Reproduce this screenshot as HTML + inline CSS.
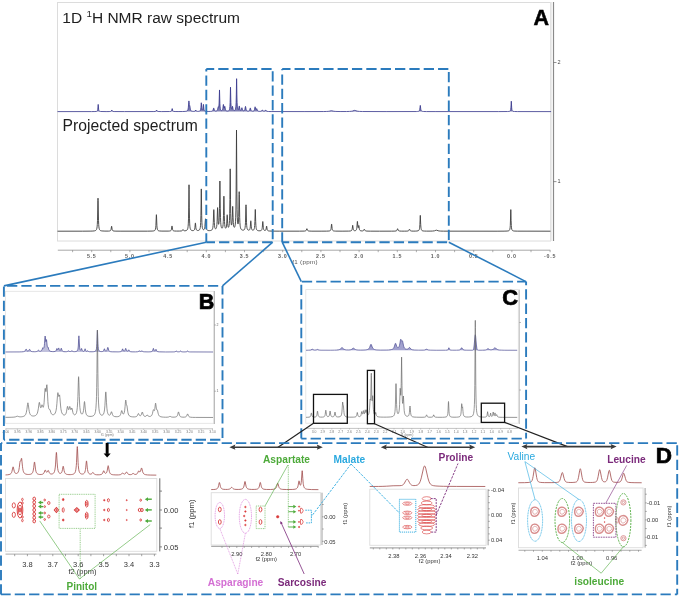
<!DOCTYPE html>
<html><head><meta charset="utf-8"><title>NMR figure</title>
<style>html,body{margin:0;padding:0;background:#fff;width:685px;height:597px;overflow:hidden}svg{display:block;will-change:transform}</style>
</head><body>
<svg width="685" height="597" viewBox="0 0 685 597">
<rect width="685" height="597" fill="#fff"/>
<rect x="57.5" y="2.5" width="493" height="238.5" fill="none" stroke="#dcdcdc" stroke-width="1"/>
<line x1="553.5" y1="2" x2="553.5" y2="241" stroke="#8a8a8a" stroke-width="1.2"/>
<line x1="551" y1="2" x2="551" y2="241" stroke="#e6e6e6" stroke-width="1.5"/>
<line x1="553.5" y1="62.5" x2="556.5" y2="62.5" stroke="#666" stroke-width="0.7"/>
<text x="557.5" y="64.3" font-size="5.5" font-family="Liberation Sans, sans-serif" fill="#444">2</text>
<line x1="553.5" y1="181.6" x2="556.5" y2="181.6" stroke="#666" stroke-width="0.7"/>
<text x="557.5" y="183.4" font-size="5.5" font-family="Liberation Sans, sans-serif" fill="#444">1</text>
<path d="M57.50 111.60 L91.50 111.58 L94.90 111.54 L96.30 111.42 L96.70 111.32 L97.10 111.10 L97.30 110.88 L97.50 110.48 L97.70 109.69 L97.90 108.00 L98.20 104.40 L98.50 108.00 L98.70 109.69 L98.90 110.48 L99.10 110.88 L99.50 111.23 L99.90 111.38 L100.70 111.49 L106.10 111.58 L109.10 111.56 L110.30 111.49 L110.70 111.42 L111.10 111.22 L111.30 111.01 L111.70 110.18 L111.80 110.09 L111.90 110.18 L112.30 111.01 L112.50 111.23 L113.10 111.46 L114.10 111.55 L124.50 111.59 L153.90 111.56 L155.10 111.49 L155.70 111.34 L156.10 111.01 L156.50 110.18 L156.60 110.09 L156.70 110.18 L157.10 111.01 L157.30 111.22 L157.70 111.42 L158.10 111.49 L161.30 111.58 L169.50 111.53 L170.90 111.38 L171.30 111.19 L171.50 110.98 L171.70 110.60 L172.10 108.81 L172.20 108.58 L172.30 108.81 L172.70 110.59 L172.90 110.98 L173.30 111.30 L173.70 111.42 L175.10 111.53 L178.10 111.56 L182.70 111.52 L185.10 111.41 L186.30 111.24 L187.10 110.90 L187.50 110.52 L187.90 109.72 L188.10 108.96 L188.30 107.71 L188.90 100.91 L189.10 102.24 L189.30 104.42 L189.50 105.41 L189.70 105.40 L189.80 105.57 L190.30 109.07 L190.50 109.85 L190.90 110.61 L191.30 110.95 L191.70 111.13 L192.30 111.27 L193.30 111.37 L194.10 111.36 L194.70 111.27 L195.10 111.04 L195.70 110.07 L196.30 111.04 L196.50 111.19 L196.90 111.32 L197.70 111.38 L198.70 111.33 L199.50 111.17 L199.90 110.96 L200.30 110.52 L200.50 110.06 L200.70 109.24 L200.90 107.68 L201.30 102.76 L201.70 107.53 L201.90 109.00 L202.10 109.69 L202.30 109.97 L202.50 109.95 L202.70 109.64 L202.90 108.85 L203.30 104.82 L203.40 104.31 L203.50 104.86 L203.90 109.09 L204.10 110.01 L204.30 110.51 L204.50 110.80 L204.90 111.10 L205.30 111.25 L205.90 111.35 L208.10 111.46 L210.70 111.40 L211.50 111.32 L212.10 111.17 L212.50 110.96 L212.90 110.48 L213.10 110.02 L213.50 108.43 L213.70 107.94 L213.90 108.41 L214.30 109.97 L214.50 110.41 L214.70 110.68 L214.90 110.85 L215.30 111.01 L216.10 111.02 L216.50 110.92 L216.90 110.70 L217.30 110.23 L217.50 109.80 L217.70 109.12 L218.20 106.88 L218.30 106.84 L218.50 107.13 L218.70 107.09 L218.90 106.04 L219.10 103.04 L219.50 89.95 L219.90 103.54 L220.10 106.94 L220.30 108.57 L220.50 109.43 L220.70 109.92 L220.90 110.22 L221.30 110.51 L221.70 110.55 L221.90 110.49 L222.30 110.15 L222.50 109.79 L222.70 109.19 L222.90 108.16 L223.30 104.77 L223.40 104.42 L223.50 104.67 L223.90 107.56 L224.10 108.16 L224.30 108.06 L224.70 106.40 L224.80 106.27 L224.90 106.56 L225.30 109.02 L225.50 109.77 L225.70 110.23 L226.10 110.70 L226.50 110.90 L227.10 111.02 L227.90 110.98 L228.30 110.88 L228.70 110.67 L229.10 110.27 L229.30 109.90 L229.50 109.32 L229.70 108.33 L229.90 106.48 L230.10 102.62 L230.50 87.19 L230.90 102.43 L231.10 106.18 L231.30 107.88 L231.50 108.64 L231.70 108.88 L231.90 108.69 L232.50 106.30 L233.10 109.33 L233.30 109.88 L233.50 110.20 L233.70 110.39 L233.90 110.49 L234.30 110.53 L234.70 110.38 L234.90 110.23 L235.30 109.61 L235.50 109.01 L235.70 108.02 L235.90 106.22 L236.10 102.65 L236.30 94.98 L236.60 78.67 L236.70 81.92 L236.90 94.94 L237.10 102.58 L237.30 106.12 L237.50 107.86 L237.70 108.79 L237.90 109.30 L238.10 109.54 L238.30 109.58 L238.50 109.41 L238.70 108.95 L239.10 106.74 L239.30 105.96 L239.50 106.82 L239.90 109.21 L240.10 109.79 L240.30 110.11 L240.50 110.27 L240.70 110.31 L240.90 110.25 L241.10 110.04 L241.30 109.65 L241.70 108.15 L241.90 107.69 L242.10 108.19 L242.50 109.78 L242.70 110.23 L243.10 110.67 L243.50 110.81 L243.90 110.78 L244.30 110.55 L244.50 110.32 L244.70 109.93 L244.90 109.30 L245.30 107.07 L245.50 106.38 L245.70 107.08 L246.10 109.35 L246.30 110.00 L246.50 110.40 L246.70 110.66 L247.10 110.94 L247.90 111.13 L248.70 111.06 L249.10 110.88 L249.30 110.70 L249.50 110.43 L249.70 109.98 L250.10 108.40 L250.30 107.92 L250.50 108.41 L250.90 109.99 L251.10 110.43 L251.50 110.89 L251.90 111.07 L252.50 111.16 L253.10 111.11 L253.70 110.88 L254.10 110.49 L254.30 110.12 L254.50 109.52 L254.90 107.44 L255.10 106.78 L255.30 107.34 L255.70 109.17 L255.90 109.55 L256.10 109.59 L256.30 109.33 L256.50 108.85 L256.70 108.62 L256.90 109.04 L257.30 110.27 L257.70 110.86 L258.30 111.18 L259.50 111.35 L260.50 111.32 L260.90 111.24 L261.30 111.09 L261.70 110.74 L262.10 110.13 L262.30 109.98 L262.50 110.13 L263.10 110.92 L263.30 111.05 L263.70 111.18 L264.30 111.17 L264.70 111.01 L265.10 110.61 L265.50 110.05 L265.60 110.01 L265.70 110.06 L266.30 110.90 L266.50 111.07 L267.10 111.34 L268.30 111.49 L271.10 111.55 L304.10 111.59 L323.70 111.54 L326.30 111.48 L328.10 111.38 L329.10 111.25 L330.90 110.84 L331.40 110.79 L331.90 110.84 L333.90 111.27 L335.90 111.45 L340.10 111.54 L346.50 111.52 L349.50 111.43 L351.30 111.28 L352.50 111.05 L354.10 110.49 L354.70 110.39 L355.30 110.49 L356.90 111.05 L357.90 111.26 L359.70 111.43 L362.50 111.52 L386.90 111.59 L416.30 111.54 L417.50 111.47 L418.30 111.36 L418.90 111.13 L419.30 110.74 L419.50 110.36 L419.70 109.69 L420.30 105.40 L420.70 108.50 L420.90 109.69 L421.10 110.36 L421.30 110.74 L421.50 110.98 L421.90 111.23 L422.50 111.40 L423.30 111.49 L426.50 111.57 L435.90 111.59 L498.30 111.59 L507.50 111.53 L508.90 111.44 L509.70 111.25 L510.10 110.99 L510.30 110.74 L510.50 110.32 L510.70 109.52 L510.90 107.86 L511.30 101.20 L511.70 107.86 L511.90 109.52 L512.10 110.32 L512.30 110.74 L512.70 111.14 L513.10 111.32 L514.50 111.51 L517.70 111.58 L551.10 111.60 L551.00 111.60 L57.50 111.60 Z" fill="#2c2c80" fill-opacity="0.6" stroke="none"/>
<path d="M57.50 111.60 L91.50 111.58 L94.90 111.54 L96.30 111.42 L96.70 111.32 L97.10 111.10 L97.30 110.88 L97.50 110.48 L97.70 109.69 L97.90 108.00 L98.20 104.40 L98.50 108.00 L98.70 109.69 L98.90 110.48 L99.10 110.88 L99.50 111.23 L99.90 111.38 L100.70 111.49 L106.10 111.58 L109.10 111.56 L110.30 111.49 L110.70 111.42 L111.10 111.22 L111.30 111.01 L111.70 110.18 L111.80 110.09 L111.90 110.18 L112.30 111.01 L112.50 111.23 L113.10 111.46 L114.10 111.55 L124.50 111.59 L153.90 111.56 L155.10 111.49 L155.70 111.34 L156.10 111.01 L156.50 110.18 L156.60 110.09 L156.70 110.18 L157.10 111.01 L157.30 111.22 L157.70 111.42 L158.10 111.49 L161.30 111.58 L169.50 111.53 L170.90 111.38 L171.30 111.19 L171.50 110.98 L171.70 110.60 L172.10 108.81 L172.20 108.58 L172.30 108.81 L172.70 110.59 L172.90 110.98 L173.30 111.30 L173.70 111.42 L175.10 111.53 L178.10 111.56 L182.70 111.52 L185.10 111.41 L186.30 111.24 L187.10 110.90 L187.50 110.52 L187.90 109.72 L188.10 108.96 L188.30 107.71 L188.90 100.91 L189.10 102.24 L189.30 104.42 L189.50 105.41 L189.70 105.40 L189.80 105.57 L190.30 109.07 L190.50 109.85 L190.90 110.61 L191.30 110.95 L191.70 111.13 L192.30 111.27 L193.30 111.37 L194.10 111.36 L194.70 111.27 L195.10 111.04 L195.70 110.07 L196.30 111.04 L196.50 111.19 L196.90 111.32 L197.70 111.38 L198.70 111.33 L199.50 111.17 L199.90 110.96 L200.30 110.52 L200.50 110.06 L200.70 109.24 L200.90 107.68 L201.30 102.76 L201.70 107.53 L201.90 109.00 L202.10 109.69 L202.30 109.97 L202.50 109.95 L202.70 109.64 L202.90 108.85 L203.30 104.82 L203.40 104.31 L203.50 104.86 L203.90 109.09 L204.10 110.01 L204.30 110.51 L204.50 110.80 L204.90 111.10 L205.30 111.25 L205.90 111.35 L208.10 111.46 L210.70 111.40 L211.50 111.32 L212.10 111.17 L212.50 110.96 L212.90 110.48 L213.10 110.02 L213.50 108.43 L213.70 107.94 L213.90 108.41 L214.30 109.97 L214.50 110.41 L214.70 110.68 L214.90 110.85 L215.30 111.01 L216.10 111.02 L216.50 110.92 L216.90 110.70 L217.30 110.23 L217.50 109.80 L217.70 109.12 L218.20 106.88 L218.30 106.84 L218.50 107.13 L218.70 107.09 L218.90 106.04 L219.10 103.04 L219.50 89.95 L219.90 103.54 L220.10 106.94 L220.30 108.57 L220.50 109.43 L220.70 109.92 L220.90 110.22 L221.30 110.51 L221.70 110.55 L221.90 110.49 L222.30 110.15 L222.50 109.79 L222.70 109.19 L222.90 108.16 L223.30 104.77 L223.40 104.42 L223.50 104.67 L223.90 107.56 L224.10 108.16 L224.30 108.06 L224.70 106.40 L224.80 106.27 L224.90 106.56 L225.30 109.02 L225.50 109.77 L225.70 110.23 L226.10 110.70 L226.50 110.90 L227.10 111.02 L227.90 110.98 L228.30 110.88 L228.70 110.67 L229.10 110.27 L229.30 109.90 L229.50 109.32 L229.70 108.33 L229.90 106.48 L230.10 102.62 L230.50 87.19 L230.90 102.43 L231.10 106.18 L231.30 107.88 L231.50 108.64 L231.70 108.88 L231.90 108.69 L232.50 106.30 L233.10 109.33 L233.30 109.88 L233.50 110.20 L233.70 110.39 L233.90 110.49 L234.30 110.53 L234.70 110.38 L234.90 110.23 L235.30 109.61 L235.50 109.01 L235.70 108.02 L235.90 106.22 L236.10 102.65 L236.30 94.98 L236.60 78.67 L236.70 81.92 L236.90 94.94 L237.10 102.58 L237.30 106.12 L237.50 107.86 L237.70 108.79 L237.90 109.30 L238.10 109.54 L238.30 109.58 L238.50 109.41 L238.70 108.95 L239.10 106.74 L239.30 105.96 L239.50 106.82 L239.90 109.21 L240.10 109.79 L240.30 110.11 L240.50 110.27 L240.70 110.31 L240.90 110.25 L241.10 110.04 L241.30 109.65 L241.70 108.15 L241.90 107.69 L242.10 108.19 L242.50 109.78 L242.70 110.23 L243.10 110.67 L243.50 110.81 L243.90 110.78 L244.30 110.55 L244.50 110.32 L244.70 109.93 L244.90 109.30 L245.30 107.07 L245.50 106.38 L245.70 107.08 L246.10 109.35 L246.30 110.00 L246.50 110.40 L246.70 110.66 L247.10 110.94 L247.90 111.13 L248.70 111.06 L249.10 110.88 L249.30 110.70 L249.50 110.43 L249.70 109.98 L250.10 108.40 L250.30 107.92 L250.50 108.41 L250.90 109.99 L251.10 110.43 L251.50 110.89 L251.90 111.07 L252.50 111.16 L253.10 111.11 L253.70 110.88 L254.10 110.49 L254.30 110.12 L254.50 109.52 L254.90 107.44 L255.10 106.78 L255.30 107.34 L255.70 109.17 L255.90 109.55 L256.10 109.59 L256.30 109.33 L256.50 108.85 L256.70 108.62 L256.90 109.04 L257.30 110.27 L257.70 110.86 L258.30 111.18 L259.50 111.35 L260.50 111.32 L260.90 111.24 L261.30 111.09 L261.70 110.74 L262.10 110.13 L262.30 109.98 L262.50 110.13 L263.10 110.92 L263.30 111.05 L263.70 111.18 L264.30 111.17 L264.70 111.01 L265.10 110.61 L265.50 110.05 L265.60 110.01 L265.70 110.06 L266.30 110.90 L266.50 111.07 L267.10 111.34 L268.30 111.49 L271.10 111.55 L304.10 111.59 L323.70 111.54 L326.30 111.48 L328.10 111.38 L329.10 111.25 L330.90 110.84 L331.40 110.79 L331.90 110.84 L333.90 111.27 L335.90 111.45 L340.10 111.54 L346.50 111.52 L349.50 111.43 L351.30 111.28 L352.50 111.05 L354.10 110.49 L354.70 110.39 L355.30 110.49 L356.90 111.05 L357.90 111.26 L359.70 111.43 L362.50 111.52 L386.90 111.59 L416.30 111.54 L417.50 111.47 L418.30 111.36 L418.90 111.13 L419.30 110.74 L419.50 110.36 L419.70 109.69 L420.30 105.40 L420.70 108.50 L420.90 109.69 L421.10 110.36 L421.30 110.74 L421.50 110.98 L421.90 111.23 L422.50 111.40 L423.30 111.49 L426.50 111.57 L435.90 111.59 L498.30 111.59 L507.50 111.53 L508.90 111.44 L509.70 111.25 L510.10 110.99 L510.30 110.74 L510.50 110.32 L510.70 109.52 L510.90 107.86 L511.30 101.20 L511.70 107.86 L511.90 109.52 L512.10 110.32 L512.30 110.74 L512.70 111.14 L513.10 111.32 L514.50 111.51 L517.70 111.58 L551.10 111.60" fill="none" stroke="#34348a" stroke-width="0.8"/>
<path d="M57.50 231.19 L82.70 231.18 L90.90 231.11 L92.90 231.04 L94.30 230.90 L95.30 230.65 L95.90 230.30 L96.30 229.85 L96.50 229.49 L96.90 228.16 L97.10 226.86 L97.30 224.59 L97.50 220.34 L97.90 200.68 L98.00 198.19 L98.10 200.68 L98.50 220.34 L98.70 224.59 L98.90 226.85 L99.10 228.16 L99.30 228.96 L99.50 229.49 L99.90 230.11 L100.30 230.44 L100.70 230.64 L101.30 230.82 L102.10 230.95 L104.90 231.09 L108.50 231.08 L109.50 230.99 L110.10 230.83 L110.50 230.58 L110.70 230.34 L110.90 229.94 L111.10 229.22 L111.50 226.47 L111.60 226.17 L111.70 226.47 L112.10 229.22 L112.30 229.94 L112.50 230.35 L112.70 230.59 L113.10 230.84 L114.10 231.05 L115.90 231.14 L120.10 231.17 L147.50 231.16 L152.10 231.07 L153.30 230.97 L154.10 230.81 L154.70 230.51 L155.10 230.06 L155.30 229.66 L155.50 229.01 L155.70 227.88 L155.90 225.75 L156.30 215.92 L156.40 214.68 L156.50 215.92 L156.90 225.75 L157.10 227.88 L157.30 229.01 L157.50 229.66 L157.90 230.32 L158.30 230.63 L158.90 230.86 L159.50 230.97 L161.90 231.10 L168.10 231.10 L169.50 231.02 L170.30 230.88 L170.70 230.70 L170.90 230.54 L171.10 230.29 L171.30 229.87 L171.50 229.12 L171.90 226.25 L172.00 225.95 L172.10 226.25 L172.50 229.12 L172.70 229.87 L172.90 230.29 L173.10 230.54 L173.30 230.69 L173.70 230.87 L174.70 231.03 L176.50 231.09 L179.70 231.06 L181.30 230.95 L181.90 230.80 L182.30 230.54 L182.90 229.59 L183.00 229.52 L183.10 229.58 L183.70 230.48 L184.10 230.71 L184.50 230.78 L185.10 230.78 L186.10 230.60 L186.70 230.32 L187.10 229.97 L187.50 229.31 L187.70 228.75 L187.90 227.89 L188.10 226.46 L188.30 223.91 L188.50 218.83 L188.70 207.94 L189.00 184.78 L189.10 189.41 L189.30 207.93 L189.50 218.82 L189.70 223.89 L189.90 226.44 L190.10 227.86 L190.30 228.72 L190.50 229.27 L190.70 229.65 L191.10 230.11 L191.50 230.36 L192.10 230.55 L192.90 230.61 L193.50 230.52 L193.90 230.35 L194.30 229.97 L194.50 229.59 L194.70 228.94 L194.90 227.79 L195.30 223.38 L195.40 222.91 L195.50 223.38 L195.90 227.77 L196.10 228.92 L196.30 229.56 L196.50 229.94 L196.90 230.31 L197.30 230.46 L197.90 230.51 L198.70 230.36 L199.10 230.17 L199.50 229.81 L199.90 229.10 L200.10 228.47 L200.30 227.47 L200.50 225.76 L200.70 222.53 L200.90 215.81 L201.30 188.91 L201.70 215.76 L201.90 222.46 L202.10 225.66 L202.30 227.35 L202.50 228.31 L202.70 228.90 L202.90 229.27 L203.10 229.50 L203.50 229.70 L203.90 229.61 L204.10 229.44 L204.30 229.14 L204.50 228.65 L204.70 227.82 L204.90 226.42 L205.30 220.77 L205.50 218.80 L205.70 220.80 L206.10 226.52 L206.30 227.97 L206.50 228.83 L206.70 229.38 L206.90 229.74 L207.30 230.16 L207.70 230.38 L208.10 230.50 L208.90 230.61 L209.70 230.61 L210.50 230.52 L211.10 230.37 L211.50 230.20 L211.90 229.91 L212.30 229.38 L212.70 228.30 L212.90 227.27 L213.10 225.54 L213.30 222.49 L213.70 210.86 L213.80 209.61 L213.90 210.83 L214.30 222.30 L214.50 225.27 L214.70 226.91 L214.90 227.84 L215.10 228.38 L215.30 228.68 L215.50 228.82 L215.70 228.83 L215.90 228.73 L216.10 228.49 L216.30 228.09 L216.50 227.44 L216.70 226.37 L216.90 224.54 L217.10 221.31 L217.50 208.97 L217.60 207.60 L217.70 208.80 L218.10 220.36 L218.30 223.08 L218.50 224.22 L218.70 224.32 L218.90 223.47 L219.10 221.38 L219.30 217.11 L219.50 208.51 L219.90 181.00 L220.30 208.86 L220.50 217.69 L220.70 222.26 L220.90 224.77 L221.10 226.24 L221.30 227.14 L221.50 227.70 L221.70 228.04 L221.90 228.20 L222.10 228.23 L222.30 228.10 L222.50 227.80 L222.70 227.25 L222.90 226.30 L223.10 224.61 L223.30 221.49 L223.50 215.42 L223.90 196.19 L224.30 215.44 L224.50 221.52 L224.70 224.65 L224.90 226.34 L225.10 227.30 L225.30 227.85 L225.50 228.14 L225.70 228.23 L225.90 228.14 L226.10 227.83 L226.30 227.21 L226.50 226.05 L226.70 223.93 L227.10 215.66 L227.20 214.76 L227.30 215.62 L227.70 223.71 L227.90 225.73 L228.10 226.76 L228.30 227.22 L228.50 227.32 L228.70 227.10 L228.90 226.56 L229.10 225.55 L229.30 223.76 L229.50 220.44 L229.70 213.77 L229.90 199.41 L230.20 168.85 L230.30 174.91 L230.50 199.22 L230.70 213.43 L230.90 219.92 L231.10 223.02 L231.30 224.50 L231.50 225.07 L231.70 224.91 L231.90 223.97 L232.10 221.82 L232.30 217.62 L232.70 206.37 L233.10 217.94 L233.30 222.34 L233.50 224.76 L233.70 226.10 L233.90 226.83 L234.10 227.20 L234.30 227.32 L234.50 227.23 L234.70 226.94 L234.90 226.40 L235.10 225.52 L235.30 224.11 L235.50 221.79 L235.70 217.75 L235.90 210.10 L236.10 194.09 L236.50 130.03 L236.90 193.86 L237.10 209.72 L237.30 217.19 L237.50 220.98 L237.70 222.96 L237.90 223.86 L238.10 223.94 L238.30 223.15 L238.50 221.05 L238.70 216.54 L239.10 194.43 L239.20 191.66 L239.30 194.61 L239.70 217.52 L239.90 222.52 L240.10 225.21 L240.30 226.78 L240.50 227.76 L240.90 228.87 L241.10 229.21 L241.50 229.64 L241.90 229.90 L242.30 230.05 L242.90 230.15 L243.50 230.10 L243.90 229.96 L244.30 229.65 L244.70 228.99 L244.90 228.37 L245.10 227.36 L245.30 225.59 L245.50 222.25 L245.90 206.77 L246.00 204.81 L246.10 206.78 L246.50 222.27 L246.70 225.62 L246.90 227.40 L247.10 228.42 L247.30 229.05 L247.70 229.72 L248.10 230.03 L248.50 230.16 L249.10 230.11 L249.50 229.83 L249.70 229.56 L249.90 229.09 L250.10 228.30 L250.30 226.87 L250.70 221.38 L250.80 220.79 L250.90 221.38 L251.30 226.88 L251.50 228.32 L251.70 229.12 L251.90 229.58 L252.10 229.87 L252.50 230.14 L252.90 230.21 L253.30 230.13 L253.70 229.86 L254.10 229.21 L254.30 228.56 L254.50 227.47 L254.70 225.48 L254.90 221.63 L255.30 209.47 L255.70 221.66 L255.90 225.53 L256.10 227.54 L256.30 228.65 L256.50 229.32 L256.90 230.03 L257.30 230.37 L257.70 230.56 L258.70 230.77 L259.90 230.79 L260.70 230.67 L261.30 230.39 L261.70 229.92 L261.90 229.46 L262.10 228.69 L262.30 227.32 L262.70 222.09 L262.80 221.53 L262.90 222.09 L263.30 227.31 L263.50 228.68 L263.70 229.44 L263.90 229.89 L264.30 230.33 L264.70 230.50 L265.10 230.50 L265.30 230.45 L265.70 230.12 L265.90 229.74 L266.10 229.04 L266.50 226.31 L266.60 226.02 L266.70 226.32 L267.10 229.10 L267.30 229.83 L267.50 230.24 L267.70 230.49 L268.10 230.75 L268.50 230.88 L269.30 231.00 L272.30 231.11 L279.70 231.16 L299.50 231.17 L304.30 231.09 L305.30 230.96 L305.90 230.68 L306.30 230.16 L306.70 229.03 L306.90 228.68 L307.10 229.03 L307.50 230.16 L307.70 230.48 L307.90 230.68 L308.30 230.90 L309.10 231.06 L311.90 231.16 L321.10 231.17 L326.70 231.14 L328.90 231.03 L329.70 230.88 L330.10 230.71 L330.50 230.35 L330.70 230.00 L330.90 229.41 L331.10 228.38 L331.50 224.41 L331.60 223.99 L331.70 224.41 L332.10 228.38 L332.30 229.41 L332.50 230.00 L332.70 230.34 L333.10 230.71 L333.50 230.88 L334.30 231.03 L335.70 231.12 L342.10 231.16 L348.70 231.10 L350.10 231.02 L350.90 230.87 L351.50 230.55 L351.90 229.96 L352.10 229.33 L352.30 228.21 L352.70 225.30 L353.10 228.18 L353.30 229.29 L353.50 229.90 L353.70 230.25 L354.10 230.58 L354.50 230.70 L355.10 230.70 L355.70 230.51 L356.10 230.19 L356.30 229.89 L356.50 229.42 L356.70 228.64 L356.90 227.25 L357.30 221.96 L357.40 221.36 L357.50 221.86 L357.90 226.65 L358.10 227.60 L358.30 227.65 L358.50 226.85 L358.70 225.63 L358.80 225.44 L358.90 225.82 L359.30 228.80 L359.50 229.59 L359.70 230.05 L360.10 230.51 L360.50 230.73 L361.10 230.88 L362.50 230.92 L362.90 230.86 L363.30 230.70 L363.70 230.29 L364.10 229.40 L364.30 229.13 L364.50 229.41 L364.90 230.32 L365.30 230.74 L365.90 230.97 L366.90 231.09 L370.30 231.16 L379.50 231.18 L391.30 231.17 L394.90 231.10 L396.10 230.94 L396.50 230.76 L396.70 230.60 L397.10 229.94 L397.50 228.78 L397.60 228.69 L397.70 228.78 L398.10 229.94 L398.50 230.60 L398.90 230.86 L399.70 231.05 L401.30 231.14 L404.70 231.15 L406.90 231.10 L407.90 231.00 L408.30 230.88 L408.70 230.61 L408.90 230.35 L409.30 229.45 L409.50 229.17 L409.70 229.45 L410.10 230.35 L410.30 230.61 L410.50 230.77 L410.90 230.94 L411.70 231.07 L413.10 231.11 L415.30 231.10 L416.90 231.01 L418.10 230.79 L418.70 230.46 L419.10 229.94 L419.30 229.46 L419.50 228.64 L419.70 227.17 L419.90 224.33 L420.30 215.38 L420.70 224.33 L420.90 227.17 L421.10 228.64 L421.30 229.46 L421.70 230.25 L421.90 230.46 L422.30 230.71 L423.10 230.94 L424.30 231.06 L426.50 231.12 L430.10 231.12 L432.50 231.05 L434.30 230.85 L434.90 230.69 L435.90 230.29 L436.40 230.19 L436.90 230.29 L438.10 230.75 L439.10 230.96 L440.70 231.08 L443.50 231.15 L497.10 231.19 L504.10 231.15 L507.10 231.06 L508.30 230.89 L508.70 230.77 L509.10 230.55 L509.50 230.11 L509.70 229.70 L509.90 229.04 L510.10 227.85 L510.30 225.48 L510.80 209.60 L511.10 220.40 L511.30 225.48 L511.50 227.85 L511.70 229.04 L511.90 229.70 L512.30 230.37 L512.70 230.67 L513.30 230.89 L514.10 231.02 L517.30 231.15 L550.50 231.20" fill="none" stroke="#3c3c3c" stroke-width="0.9"/>
<text x="62.3" y="22.6" font-size="15.5" font-family="Liberation Sans, sans-serif" fill="#1e1e1e">1D <tspan font-size="9.8" dy="-5.4">1</tspan><tspan dy="5.4">H NMR raw spectrum</tspan></text>
<text x="62.6" y="131.4" font-size="15.7" font-family="Liberation Sans, sans-serif" fill="#1e1e1e">Projected spectrum</text>
<text x="533.6" y="24.6" font-size="21.5" font-weight="bold" font-family="Liberation Sans, sans-serif" fill="#000" stroke="#000" stroke-width="0.5">A</text>
<line x1="57.8" y1="250.2" x2="550.3" y2="250.2" stroke="#a8a8a8" stroke-width="1"/>
<line x1="72.6" y1="250.2" x2="72.6" y2="252.2" stroke="#777" stroke-width="0.6"/>
<line x1="91.7" y1="250.2" x2="91.7" y2="252.2" stroke="#777" stroke-width="0.6"/>
<line x1="110.8" y1="250.2" x2="110.8" y2="252.2" stroke="#777" stroke-width="0.6"/>
<line x1="129.9" y1="250.2" x2="129.9" y2="252.2" stroke="#777" stroke-width="0.6"/>
<line x1="149.0" y1="250.2" x2="149.0" y2="252.2" stroke="#777" stroke-width="0.6"/>
<line x1="168.1" y1="250.2" x2="168.1" y2="252.2" stroke="#777" stroke-width="0.6"/>
<line x1="187.2" y1="250.2" x2="187.2" y2="252.2" stroke="#777" stroke-width="0.6"/>
<line x1="206.3" y1="250.2" x2="206.3" y2="252.2" stroke="#777" stroke-width="0.6"/>
<line x1="225.4" y1="250.2" x2="225.4" y2="252.2" stroke="#777" stroke-width="0.6"/>
<line x1="244.5" y1="250.2" x2="244.5" y2="252.2" stroke="#777" stroke-width="0.6"/>
<line x1="263.6" y1="250.2" x2="263.6" y2="252.2" stroke="#777" stroke-width="0.6"/>
<line x1="282.7" y1="250.2" x2="282.7" y2="252.2" stroke="#777" stroke-width="0.6"/>
<line x1="301.8" y1="250.2" x2="301.8" y2="252.2" stroke="#777" stroke-width="0.6"/>
<line x1="320.9" y1="250.2" x2="320.9" y2="252.2" stroke="#777" stroke-width="0.6"/>
<line x1="340.0" y1="250.2" x2="340.0" y2="252.2" stroke="#777" stroke-width="0.6"/>
<line x1="359.1" y1="250.2" x2="359.1" y2="252.2" stroke="#777" stroke-width="0.6"/>
<line x1="378.2" y1="250.2" x2="378.2" y2="252.2" stroke="#777" stroke-width="0.6"/>
<line x1="397.3" y1="250.2" x2="397.3" y2="252.2" stroke="#777" stroke-width="0.6"/>
<line x1="416.4" y1="250.2" x2="416.4" y2="252.2" stroke="#777" stroke-width="0.6"/>
<line x1="435.5" y1="250.2" x2="435.5" y2="252.2" stroke="#777" stroke-width="0.6"/>
<line x1="454.6" y1="250.2" x2="454.6" y2="252.2" stroke="#777" stroke-width="0.6"/>
<line x1="473.7" y1="250.2" x2="473.7" y2="252.2" stroke="#777" stroke-width="0.6"/>
<line x1="492.8" y1="250.2" x2="492.8" y2="252.2" stroke="#777" stroke-width="0.6"/>
<line x1="511.9" y1="250.2" x2="511.9" y2="252.2" stroke="#777" stroke-width="0.6"/>
<line x1="531.0" y1="250.2" x2="531.0" y2="252.2" stroke="#777" stroke-width="0.6"/>
<line x1="550.1" y1="250.2" x2="550.1" y2="252.2" stroke="#777" stroke-width="0.6"/>
<text x="91.7" y="258.3" font-size="5.3" font-weight="bold" text-anchor="middle" letter-spacing="0.75" font-family="Liberation Sans, sans-serif" fill="#606060">5.5</text>
<text x="129.9" y="258.3" font-size="5.3" font-weight="bold" text-anchor="middle" letter-spacing="0.75" font-family="Liberation Sans, sans-serif" fill="#606060">5.0</text>
<text x="168.1" y="258.3" font-size="5.3" font-weight="bold" text-anchor="middle" letter-spacing="0.75" font-family="Liberation Sans, sans-serif" fill="#606060">4.5</text>
<text x="206.3" y="258.3" font-size="5.3" font-weight="bold" text-anchor="middle" letter-spacing="0.75" font-family="Liberation Sans, sans-serif" fill="#606060">4.0</text>
<text x="244.5" y="258.3" font-size="5.3" font-weight="bold" text-anchor="middle" letter-spacing="0.75" font-family="Liberation Sans, sans-serif" fill="#606060">3.5</text>
<text x="282.7" y="258.3" font-size="5.3" font-weight="bold" text-anchor="middle" letter-spacing="0.75" font-family="Liberation Sans, sans-serif" fill="#606060">3.0</text>
<text x="320.9" y="258.3" font-size="5.3" font-weight="bold" text-anchor="middle" letter-spacing="0.75" font-family="Liberation Sans, sans-serif" fill="#606060">2.5</text>
<text x="359.1" y="258.3" font-size="5.3" font-weight="bold" text-anchor="middle" letter-spacing="0.75" font-family="Liberation Sans, sans-serif" fill="#606060">2.0</text>
<text x="397.3" y="258.3" font-size="5.3" font-weight="bold" text-anchor="middle" letter-spacing="0.75" font-family="Liberation Sans, sans-serif" fill="#606060">1.5</text>
<text x="435.5" y="258.3" font-size="5.3" font-weight="bold" text-anchor="middle" letter-spacing="0.75" font-family="Liberation Sans, sans-serif" fill="#606060">1.0</text>
<text x="473.7" y="258.3" font-size="5.3" font-weight="bold" text-anchor="middle" letter-spacing="0.75" font-family="Liberation Sans, sans-serif" fill="#606060">0.5</text>
<text x="511.9" y="258.3" font-size="5.3" font-weight="bold" text-anchor="middle" letter-spacing="0.75" font-family="Liberation Sans, sans-serif" fill="#606060">0.0</text>
<text x="550.1" y="258.3" font-size="5.3" font-weight="bold" text-anchor="middle" letter-spacing="0.75" font-family="Liberation Sans, sans-serif" fill="#606060">-0.5</text>
<text x="292.2" y="263.6" font-size="6.2" letter-spacing="0.35" font-family="Liberation Sans, sans-serif" fill="#555">f1 (ppm)</text>
<line x1="206.3" y1="69" x2="272.7" y2="69" stroke="#2b7bbd" stroke-width="1.9" stroke-dasharray="10.3 4.05" stroke-dashoffset="2.40"/><line x1="272.7" y1="69" x2="272.7" y2="242.2" stroke="#2b7bbd" stroke-width="1.9" stroke-dasharray="10.3 4.05" stroke-dashoffset="12.15"/><line x1="206.3" y1="242.2" x2="272.7" y2="242.2" stroke="#2b7bbd" stroke-width="1.9" stroke-dasharray="10.3 4.05" stroke-dashoffset="1.60"/><line x1="206.3" y1="69" x2="206.3" y2="242.2" stroke="#2b7bbd" stroke-width="1.9" stroke-dasharray="10.3 4.05" stroke-dashoffset="7.85"/>
<line x1="282.2" y1="69" x2="448.8" y2="69" stroke="#2b7bbd" stroke-width="1.9" stroke-dasharray="10.3 4.05" stroke-dashoffset="2.00"/><line x1="448.8" y1="69" x2="448.8" y2="242.2" stroke="#2b7bbd" stroke-width="1.9" stroke-dasharray="10.3 4.05" stroke-dashoffset="11.45"/><line x1="282.2" y1="242.2" x2="448.8" y2="242.2" stroke="#2b7bbd" stroke-width="1.9" stroke-dasharray="10.3 4.05" stroke-dashoffset="3.25"/><line x1="282.2" y1="69" x2="282.2" y2="242.2" stroke="#2b7bbd" stroke-width="1.9" stroke-dasharray="10.3 4.05" stroke-dashoffset="8.95"/>
<line x1="206.3" y1="242.2" x2="3.9" y2="285.9" stroke="#2b7bbd" stroke-width="1.6"/>
<line x1="272.7" y1="242.2" x2="222.5" y2="285.9" stroke="#2b7bbd" stroke-width="1.6"/>
<line x1="282.2" y1="242.2" x2="301.3" y2="281.6" stroke="#2b7bbd" stroke-width="1.6"/>
<line x1="448.8" y1="242.2" x2="525.9" y2="281.6" stroke="#2b7bbd" stroke-width="1.6"/>
<rect x="5.5" y="291.3" width="208.5" height="132" fill="none" stroke="#e2e2e2" stroke-width="0.8"/>
<line x1="214.3" y1="291" x2="214.3" y2="424" stroke="#9a9a9a" stroke-width="0.8"/>
<line x1="214.3" y1="325" x2="216" y2="325" stroke="#777" stroke-width="0.5"/>
<text x="216.5" y="326.2" font-size="3.5" font-family="Liberation Sans, sans-serif" fill="#666">2</text>
<line x1="214.3" y1="391.2" x2="216" y2="391.2" stroke="#777" stroke-width="0.5"/>
<text x="216.5" y="392.4" font-size="3.5" font-family="Liberation Sans, sans-serif" fill="#666">1</text>
<path d="M5.50 351.98 L19.10 351.93 L21.70 351.86 L23.30 351.72 L24.30 351.46 L24.90 351.06 L25.30 350.53 L25.90 349.30 L26.10 349.13 L26.30 349.28 L26.90 350.40 L27.10 350.67 L27.50 350.97 L27.70 351.03 L28.10 351.02 L28.50 350.81 L28.90 350.32 L29.30 349.59 L29.50 349.33 L29.60 349.30 L29.70 349.34 L29.90 349.63 L30.50 350.74 L30.90 351.16 L31.50 351.48 L32.30 351.65 L34.50 351.74 L35.70 351.68 L36.50 351.56 L37.30 351.25 L37.70 350.90 L38.10 350.41 L38.40 350.20 L38.70 350.36 L39.30 350.95 L39.70 351.14 L40.30 351.19 L40.90 351.05 L41.50 350.65 L41.90 350.09 L42.70 347.88 L42.80 347.74 L42.90 347.71 L43.30 348.16 L43.50 348.28 L43.70 348.14 L43.90 347.72 L44.10 346.92 L44.30 345.61 L44.50 343.62 L44.90 337.74 L45.10 336.06 L45.30 337.05 L45.70 341.11 L45.90 341.70 L46.10 341.14 L46.30 340.00 L46.50 339.60 L46.70 340.93 L47.10 345.06 L47.30 346.33 L47.50 346.98 L47.70 347.16 L47.90 347.06 L48.10 347.15 L48.90 349.90 L49.30 350.59 L49.90 351.09 L50.90 351.43 L52.30 351.60 L53.90 351.61 L55.10 351.42 L55.70 351.09 L56.10 350.57 L56.30 350.12 L56.70 348.83 L56.90 348.47 L57.10 348.68 L57.50 349.61 L57.70 349.79 L57.90 349.74 L58.10 349.43 L58.50 348.23 L58.70 347.93 L58.90 348.30 L59.30 349.69 L59.50 350.15 L59.70 350.42 L59.90 350.55 L60.10 350.56 L60.30 350.46 L60.50 350.22 L60.70 349.80 L61.10 348.50 L61.30 348.18 L61.50 348.56 L61.90 350.00 L62.30 350.85 L62.70 351.26 L63.10 351.46 L63.50 351.58 L65.10 351.74 L66.70 351.66 L67.50 351.40 L68.10 350.96 L68.40 350.83 L68.70 350.95 L69.30 351.36 L69.90 351.53 L70.50 351.51 L70.90 351.40 L71.70 350.88 L71.90 350.82 L72.10 350.88 L72.90 351.43 L73.50 351.60 L74.70 351.66 L75.90 351.52 L76.70 351.24 L77.10 350.94 L77.30 350.70 L77.70 349.90 L77.90 349.17 L78.10 348.01 L78.30 346.09 L78.70 338.47 L78.90 335.82 L79.10 338.44 L79.50 346.00 L79.70 347.88 L79.90 348.98 L80.10 349.64 L80.30 350.03 L80.50 350.22 L80.70 350.26 L80.90 350.12 L81.10 349.75 L81.50 348.54 L81.60 348.45 L81.70 348.59 L82.10 350.05 L82.30 350.56 L82.50 350.88 L82.70 351.08 L83.10 351.28 L83.70 351.29 L84.10 351.09 L84.30 350.87 L84.50 350.50 L84.90 349.16 L85.10 348.75 L85.30 349.17 L85.70 350.52 L85.90 350.90 L86.10 351.12 L86.50 351.32 L86.90 351.29 L87.50 350.85 L87.70 350.77 L87.90 350.88 L88.50 351.45 L88.90 351.63 L89.50 351.74 L92.10 351.79 L93.30 351.72 L94.30 351.58 L95.10 351.30 L95.70 350.80 L96.10 350.07 L96.30 349.42 L96.50 348.38 L96.70 346.64 L96.90 343.54 L97.30 331.69 L97.40 330.43 L97.50 331.69 L97.90 343.53 L98.10 346.63 L98.30 348.37 L98.50 349.40 L98.70 350.05 L99.10 350.78 L99.70 351.26 L100.50 351.52 L101.30 351.60 L102.10 351.57 L102.70 351.45 L103.10 351.26 L103.50 350.86 L103.70 350.51 L104.30 348.84 L104.40 348.76 L104.50 348.83 L104.90 349.94 L105.30 350.73 L105.70 351.03 L106.10 351.05 L106.30 350.98 L106.70 350.60 L106.90 350.24 L107.10 349.69 L107.60 347.76 L107.70 347.50 L107.90 347.34 L108.10 347.77 L108.70 350.16 L108.90 350.62 L109.30 351.16 L109.70 351.43 L110.30 351.63 L111.10 351.76 L112.30 351.84 L118.10 351.88 L119.70 351.80 L120.70 351.63 L121.30 351.36 L121.70 350.95 L122.10 350.09 L122.50 348.91 L122.60 348.82 L122.70 348.90 L123.10 350.00 L123.50 350.78 L123.90 351.06 L124.30 351.06 L124.70 350.78 L124.90 350.47 L125.10 350.01 L125.50 348.63 L125.70 348.29 L125.90 348.64 L126.30 350.03 L126.50 350.51 L126.70 350.82 L127.10 351.13 L127.50 351.18 L127.90 350.97 L128.10 350.73 L128.50 349.99 L128.70 349.81 L128.90 350.03 L129.50 351.14 L129.90 351.48 L130.70 351.74 L132.10 351.86 L135.30 351.89 L137.30 351.79 L137.90 351.68 L138.30 351.52 L139.10 350.95 L139.30 350.88 L139.50 350.92 L140.10 351.30 L140.50 351.41 L141.10 351.30 L141.70 350.92 L141.90 350.88 L142.10 350.95 L142.70 351.41 L143.10 351.61 L143.70 351.77 L144.30 351.84 L148.10 351.90 L149.90 351.85 L150.90 351.75 L151.70 351.54 L152.10 351.31 L152.30 351.11 L152.70 350.42 L153.30 348.46 L153.40 348.35 L153.50 348.44 L154.10 350.27 L154.30 350.63 L154.50 350.84 L154.70 350.93 L154.90 350.93 L155.10 350.83 L155.30 350.61 L155.90 349.36 L156.00 349.31 L156.10 349.39 L156.70 350.81 L157.10 351.32 L157.50 351.57 L157.90 351.70 L159.30 351.87 L165.50 351.97 L173.90 351.92 L174.70 351.84 L175.30 351.67 L176.20 350.97 L176.30 351.00 L176.90 351.54 L177.30 351.73 L177.90 351.83 L178.70 351.84 L179.30 351.77 L179.70 351.65 L180.60 350.97 L180.70 350.99 L181.30 351.55 L181.70 351.74 L182.30 351.86 L183.10 351.91 L185.10 351.92 L186.30 351.80 L186.90 351.56 L187.50 351.01 L187.60 350.98 L187.70 351.01 L188.30 351.56 L188.70 351.76 L189.30 351.88 L190.10 351.93 L213.10 352.00 L213.00 352.00 L5.50 352.00 Z" fill="#4a4a9a" fill-opacity="0.35" stroke="none"/>
<path d="M5.50 351.98 L19.10 351.93 L21.70 351.86 L23.30 351.72 L24.30 351.46 L24.90 351.06 L25.30 350.53 L25.90 349.30 L26.10 349.13 L26.30 349.28 L26.90 350.40 L27.10 350.67 L27.50 350.97 L27.70 351.03 L28.10 351.02 L28.50 350.81 L28.90 350.32 L29.30 349.59 L29.50 349.33 L29.60 349.30 L29.70 349.34 L29.90 349.63 L30.50 350.74 L30.90 351.16 L31.50 351.48 L32.30 351.65 L34.50 351.74 L35.70 351.68 L36.50 351.56 L37.30 351.25 L37.70 350.90 L38.10 350.41 L38.40 350.20 L38.70 350.36 L39.30 350.95 L39.70 351.14 L40.30 351.19 L40.90 351.05 L41.50 350.65 L41.90 350.09 L42.70 347.88 L42.80 347.74 L42.90 347.71 L43.30 348.16 L43.50 348.28 L43.70 348.14 L43.90 347.72 L44.10 346.92 L44.30 345.61 L44.50 343.62 L44.90 337.74 L45.10 336.06 L45.30 337.05 L45.70 341.11 L45.90 341.70 L46.10 341.14 L46.30 340.00 L46.50 339.60 L46.70 340.93 L47.10 345.06 L47.30 346.33 L47.50 346.98 L47.70 347.16 L47.90 347.06 L48.10 347.15 L48.90 349.90 L49.30 350.59 L49.90 351.09 L50.90 351.43 L52.30 351.60 L53.90 351.61 L55.10 351.42 L55.70 351.09 L56.10 350.57 L56.30 350.12 L56.70 348.83 L56.90 348.47 L57.10 348.68 L57.50 349.61 L57.70 349.79 L57.90 349.74 L58.10 349.43 L58.50 348.23 L58.70 347.93 L58.90 348.30 L59.30 349.69 L59.50 350.15 L59.70 350.42 L59.90 350.55 L60.10 350.56 L60.30 350.46 L60.50 350.22 L60.70 349.80 L61.10 348.50 L61.30 348.18 L61.50 348.56 L61.90 350.00 L62.30 350.85 L62.70 351.26 L63.10 351.46 L63.50 351.58 L65.10 351.74 L66.70 351.66 L67.50 351.40 L68.10 350.96 L68.40 350.83 L68.70 350.95 L69.30 351.36 L69.90 351.53 L70.50 351.51 L70.90 351.40 L71.70 350.88 L71.90 350.82 L72.10 350.88 L72.90 351.43 L73.50 351.60 L74.70 351.66 L75.90 351.52 L76.70 351.24 L77.10 350.94 L77.30 350.70 L77.70 349.90 L77.90 349.17 L78.10 348.01 L78.30 346.09 L78.70 338.47 L78.90 335.82 L79.10 338.44 L79.50 346.00 L79.70 347.88 L79.90 348.98 L80.10 349.64 L80.30 350.03 L80.50 350.22 L80.70 350.26 L80.90 350.12 L81.10 349.75 L81.50 348.54 L81.60 348.45 L81.70 348.59 L82.10 350.05 L82.30 350.56 L82.50 350.88 L82.70 351.08 L83.10 351.28 L83.70 351.29 L84.10 351.09 L84.30 350.87 L84.50 350.50 L84.90 349.16 L85.10 348.75 L85.30 349.17 L85.70 350.52 L85.90 350.90 L86.10 351.12 L86.50 351.32 L86.90 351.29 L87.50 350.85 L87.70 350.77 L87.90 350.88 L88.50 351.45 L88.90 351.63 L89.50 351.74 L92.10 351.79 L93.30 351.72 L94.30 351.58 L95.10 351.30 L95.70 350.80 L96.10 350.07 L96.30 349.42 L96.50 348.38 L96.70 346.64 L96.90 343.54 L97.30 331.69 L97.40 330.43 L97.50 331.69 L97.90 343.53 L98.10 346.63 L98.30 348.37 L98.50 349.40 L98.70 350.05 L99.10 350.78 L99.70 351.26 L100.50 351.52 L101.30 351.60 L102.10 351.57 L102.70 351.45 L103.10 351.26 L103.50 350.86 L103.70 350.51 L104.30 348.84 L104.40 348.76 L104.50 348.83 L104.90 349.94 L105.30 350.73 L105.70 351.03 L106.10 351.05 L106.30 350.98 L106.70 350.60 L106.90 350.24 L107.10 349.69 L107.60 347.76 L107.70 347.50 L107.90 347.34 L108.10 347.77 L108.70 350.16 L108.90 350.62 L109.30 351.16 L109.70 351.43 L110.30 351.63 L111.10 351.76 L112.30 351.84 L118.10 351.88 L119.70 351.80 L120.70 351.63 L121.30 351.36 L121.70 350.95 L122.10 350.09 L122.50 348.91 L122.60 348.82 L122.70 348.90 L123.10 350.00 L123.50 350.78 L123.90 351.06 L124.30 351.06 L124.70 350.78 L124.90 350.47 L125.10 350.01 L125.50 348.63 L125.70 348.29 L125.90 348.64 L126.30 350.03 L126.50 350.51 L126.70 350.82 L127.10 351.13 L127.50 351.18 L127.90 350.97 L128.10 350.73 L128.50 349.99 L128.70 349.81 L128.90 350.03 L129.50 351.14 L129.90 351.48 L130.70 351.74 L132.10 351.86 L135.30 351.89 L137.30 351.79 L137.90 351.68 L138.30 351.52 L139.10 350.95 L139.30 350.88 L139.50 350.92 L140.10 351.30 L140.50 351.41 L141.10 351.30 L141.70 350.92 L141.90 350.88 L142.10 350.95 L142.70 351.41 L143.10 351.61 L143.70 351.77 L144.30 351.84 L148.10 351.90 L149.90 351.85 L150.90 351.75 L151.70 351.54 L152.10 351.31 L152.30 351.11 L152.70 350.42 L153.30 348.46 L153.40 348.35 L153.50 348.44 L154.10 350.27 L154.30 350.63 L154.50 350.84 L154.70 350.93 L154.90 350.93 L155.10 350.83 L155.30 350.61 L155.90 349.36 L156.00 349.31 L156.10 349.39 L156.70 350.81 L157.10 351.32 L157.50 351.57 L157.90 351.70 L159.30 351.87 L165.50 351.97 L173.90 351.92 L174.70 351.84 L175.30 351.67 L176.20 350.97 L176.30 351.00 L176.90 351.54 L177.30 351.73 L177.90 351.83 L178.70 351.84 L179.30 351.77 L179.70 351.65 L180.60 350.97 L180.70 350.99 L181.30 351.55 L181.70 351.74 L182.30 351.86 L183.10 351.91 L185.10 351.92 L186.30 351.80 L186.90 351.56 L187.50 351.01 L187.60 350.98 L187.70 351.01 L188.30 351.56 L188.70 351.76 L189.30 351.88 L190.10 351.93 L213.10 352.00" fill="none" stroke="#45458e" stroke-width="0.7"/>
<path d="M5.50 417.37 L11.10 417.28 L13.90 417.13 L15.30 416.91 L16.90 416.29 L17.30 416.21 L17.70 416.26 L18.70 416.61 L19.30 416.75 L20.30 416.83 L21.30 416.80 L22.30 416.68 L23.10 416.50 L23.70 416.30 L24.30 415.99 L24.90 415.51 L25.50 414.71 L25.90 413.86 L26.30 412.58 L26.90 409.33 L27.50 404.50 L27.70 403.28 L27.90 402.82 L28.10 403.27 L28.30 404.47 L28.90 409.24 L29.30 411.59 L29.70 413.14 L29.90 413.69 L30.30 414.50 L30.70 415.04 L31.30 415.54 L31.90 415.82 L32.70 416.00 L33.70 416.02 L34.50 415.89 L35.30 415.62 L35.90 415.26 L36.50 414.68 L36.90 414.10 L37.30 413.26 L37.70 412.00 L38.30 408.83 L39.10 402.90 L39.30 402.32 L39.50 402.54 L40.30 406.76 L40.50 407.44 L40.70 407.79 L40.90 407.82 L41.10 407.52 L41.70 405.33 L41.90 404.80 L42.00 404.71 L42.10 404.75 L42.30 405.21 L42.70 406.63 L42.90 407.14 L43.10 407.35 L43.30 407.23 L43.50 406.75 L43.70 405.86 L43.90 404.49 L44.10 402.57 L44.90 390.17 L45.10 388.39 L45.30 388.42 L45.70 391.06 L45.90 391.68 L46.10 391.16 L46.70 385.10 L46.90 384.71 L47.10 386.65 L47.90 401.66 L48.10 404.14 L48.50 407.35 L48.70 408.30 L48.90 408.92 L49.10 409.26 L49.30 409.39 L49.70 409.42 L49.90 409.62 L50.10 410.07 L50.90 412.68 L51.30 413.55 L51.70 414.11 L52.30 414.56 L52.90 414.73 L53.50 414.69 L54.10 414.44 L54.70 413.92 L55.10 413.34 L55.70 411.90 L56.10 410.26 L56.50 407.69 L56.90 403.66 L57.50 395.30 L57.70 393.31 L57.80 392.80 L57.90 392.64 L58.10 393.24 L58.50 395.72 L58.70 396.39 L58.90 396.38 L59.30 395.09 L59.50 394.87 L59.60 395.12 L59.90 397.54 L60.50 405.02 L60.90 408.60 L61.10 409.88 L61.50 411.72 L61.90 412.91 L62.50 413.99 L62.90 414.43 L63.30 414.72 L63.70 414.90 L64.10 414.98 L64.50 414.96 L64.90 414.84 L65.30 414.56 L65.70 414.07 L66.10 413.22 L66.50 411.75 L67.30 406.87 L67.50 406.30 L67.70 406.53 L68.30 409.14 L68.50 409.63 L68.70 409.75 L68.90 409.51 L69.10 408.92 L69.50 407.15 L69.70 406.54 L69.80 406.45 L69.90 406.54 L70.10 407.17 L70.50 408.95 L70.70 409.53 L70.90 409.78 L71.10 409.66 L71.70 408.12 L71.90 408.03 L72.10 408.55 L72.90 412.49 L73.30 413.65 L73.70 414.31 L74.10 414.65 L74.30 414.74 L74.70 414.80 L75.30 414.59 L75.70 414.23 L75.90 413.96 L76.30 413.16 L76.50 412.59 L76.90 410.84 L77.30 407.68 L77.70 401.62 L77.90 396.70 L78.30 382.91 L78.50 377.50 L78.60 376.70 L78.70 377.50 L78.90 382.90 L79.30 396.67 L79.70 405.10 L79.90 407.61 L80.30 410.74 L80.50 411.71 L80.90 412.98 L81.10 413.39 L81.50 413.90 L81.70 414.03 L82.10 414.07 L82.50 413.79 L82.70 413.51 L83.10 412.48 L83.50 410.46 L83.70 408.88 L84.30 402.41 L84.50 401.56 L84.70 402.48 L85.30 409.18 L85.70 412.10 L86.10 413.75 L86.30 414.29 L86.70 415.03 L87.30 415.67 L87.90 416.03 L88.70 416.28 L89.90 416.42 L91.10 416.39 L92.30 416.18 L93.10 415.88 L93.90 415.32 L94.50 414.56 L94.90 413.72 L95.30 412.40 L95.50 411.43 L95.90 408.37 L96.30 402.16 L96.50 396.54 L96.70 387.66 L96.90 373.55 L97.30 333.38 L97.40 330.03 L97.50 333.37 L97.90 373.51 L98.10 387.60 L98.30 396.46 L98.50 402.07 L98.90 408.24 L99.30 411.26 L99.50 412.21 L99.90 413.48 L100.30 414.25 L100.90 414.89 L101.30 415.11 L101.90 415.21 L102.50 415.06 L102.90 414.79 L103.30 414.33 L103.50 413.99 L103.90 412.98 L104.10 412.24 L104.50 409.95 L104.90 405.82 L105.50 394.97 L105.70 392.28 L105.80 391.90 L105.90 392.29 L106.10 394.99 L106.50 402.75 L106.90 408.26 L107.30 411.35 L107.50 412.34 L107.90 413.67 L108.30 414.45 L108.50 414.72 L108.90 415.06 L109.30 415.21 L109.50 415.21 L109.90 415.06 L110.30 414.61 L110.50 414.24 L111.30 411.90 L111.50 411.70 L111.70 411.97 L112.50 414.59 L112.90 415.40 L113.30 415.89 L113.70 416.19 L114.10 416.39 L114.70 416.57 L116.10 416.73 L117.70 416.66 L118.90 416.37 L119.30 416.17 L119.70 415.87 L120.10 415.41 L120.50 414.64 L120.90 413.38 L121.50 410.88 L121.70 410.54 L121.90 410.76 L122.50 412.84 L122.90 413.74 L123.10 413.96 L123.30 414.04 L123.50 414.00 L123.70 413.83 L124.10 413.07 L124.30 412.41 L124.70 410.21 L125.10 406.27 L125.50 401.33 L125.70 400.10 L125.90 400.51 L126.30 403.53 L126.50 404.58 L127.00 406.03 L127.70 411.15 L127.90 412.35 L128.30 413.99 L128.70 414.95 L129.30 415.77 L130.10 416.32 L131.30 416.70 L132.70 416.88 L134.30 416.91 L135.50 416.79 L136.30 416.56 L136.90 416.16 L137.30 415.67 L137.70 414.87 L138.10 413.87 L138.30 413.55 L138.40 413.49 L138.50 413.52 L138.70 413.80 L139.10 414.70 L139.50 415.38 L139.90 415.71 L140.10 415.77 L140.50 415.70 L140.90 415.38 L141.30 414.69 L142.10 412.26 L142.30 412.04 L142.50 412.28 L143.10 414.26 L143.50 415.25 L143.90 415.83 L144.50 416.26 L144.90 416.37 L145.30 416.39 L145.90 416.22 L146.30 415.91 L146.90 415.14 L147.20 414.94 L147.50 415.14 L148.30 416.11 L148.90 416.41 L149.30 416.48 L149.90 416.46 L150.50 416.31 L150.90 416.12 L151.50 415.63 L151.90 415.05 L152.10 414.63 L152.50 413.41 L153.10 410.61 L153.40 409.69 L153.50 409.63 L153.70 409.84 L154.10 410.57 L154.30 410.61 L154.50 410.28 L154.70 409.50 L154.90 408.24 L155.30 404.68 L155.50 403.38 L155.60 403.19 L155.70 403.37 L155.90 404.63 L156.30 408.05 L156.50 409.20 L156.70 409.82 L156.90 409.99 L157.30 409.90 L157.50 410.31 L158.10 413.19 L158.50 414.60 L158.90 415.44 L159.30 415.95 L159.90 416.41 L160.90 416.79 L162.10 417.01 L163.50 417.14 L165.50 417.21 L167.10 417.19 L168.50 417.01 L169.10 416.77 L169.70 416.41 L170.00 416.32 L170.30 416.41 L171.30 416.95 L172.10 417.12 L174.10 417.17 L175.70 416.96 L176.30 416.74 L176.70 416.48 L177.10 416.04 L177.30 415.70 L177.70 414.65 L178.30 412.22 L178.50 411.90 L178.70 412.22 L179.50 415.25 L179.90 416.04 L180.30 416.49 L180.70 416.75 L181.70 417.05 L182.90 417.17 L184.30 417.15 L185.30 417.00 L185.90 416.75 L186.30 416.44 L186.70 415.86 L187.30 414.34 L187.50 413.97 L187.60 413.91 L187.70 413.97 L187.90 414.35 L188.50 415.88 L188.90 416.47 L189.30 416.79 L189.70 416.99 L190.70 417.22 L192.50 417.36 L195.50 417.42 L213.10 417.47" fill="none" stroke="#6a6a6a" stroke-width="0.7"/>
<line x1="5.5" y1="428.8" x2="213" y2="428.8" stroke="#aaa" stroke-width="0.7"/>
<line x1="5.9" y1="428.8" x2="5.9" y2="430" stroke="#888" stroke-width="0.4"/>
<text x="5.9" y="433.4" font-size="3.4" text-anchor="middle" font-family="Liberation Sans, sans-serif" fill="#777">4.00</text>
<line x1="17.4" y1="428.8" x2="17.4" y2="430" stroke="#888" stroke-width="0.4"/>
<text x="17.4" y="433.4" font-size="3.4" text-anchor="middle" font-family="Liberation Sans, sans-serif" fill="#777">3.95</text>
<line x1="28.9" y1="428.8" x2="28.9" y2="430" stroke="#888" stroke-width="0.4"/>
<text x="28.9" y="433.4" font-size="3.4" text-anchor="middle" font-family="Liberation Sans, sans-serif" fill="#777">3.90</text>
<line x1="40.3" y1="428.8" x2="40.3" y2="430" stroke="#888" stroke-width="0.4"/>
<text x="40.3" y="433.4" font-size="3.4" text-anchor="middle" font-family="Liberation Sans, sans-serif" fill="#777">3.85</text>
<line x1="51.8" y1="428.8" x2="51.8" y2="430" stroke="#888" stroke-width="0.4"/>
<text x="51.8" y="433.4" font-size="3.4" text-anchor="middle" font-family="Liberation Sans, sans-serif" fill="#777">3.80</text>
<line x1="63.3" y1="428.8" x2="63.3" y2="430" stroke="#888" stroke-width="0.4"/>
<text x="63.3" y="433.4" font-size="3.4" text-anchor="middle" font-family="Liberation Sans, sans-serif" fill="#777">3.75</text>
<line x1="74.8" y1="428.8" x2="74.8" y2="430" stroke="#888" stroke-width="0.4"/>
<text x="74.8" y="433.4" font-size="3.4" text-anchor="middle" font-family="Liberation Sans, sans-serif" fill="#777">3.70</text>
<line x1="86.3" y1="428.8" x2="86.3" y2="430" stroke="#888" stroke-width="0.4"/>
<text x="86.3" y="433.4" font-size="3.4" text-anchor="middle" font-family="Liberation Sans, sans-serif" fill="#777">3.65</text>
<line x1="97.7" y1="428.8" x2="97.7" y2="430" stroke="#888" stroke-width="0.4"/>
<text x="97.7" y="433.4" font-size="3.4" text-anchor="middle" font-family="Liberation Sans, sans-serif" fill="#777">3.60</text>
<line x1="109.2" y1="428.8" x2="109.2" y2="430" stroke="#888" stroke-width="0.4"/>
<text x="109.2" y="433.4" font-size="3.4" text-anchor="middle" font-family="Liberation Sans, sans-serif" fill="#777">3.55</text>
<line x1="120.7" y1="428.8" x2="120.7" y2="430" stroke="#888" stroke-width="0.4"/>
<text x="120.7" y="433.4" font-size="3.4" text-anchor="middle" font-family="Liberation Sans, sans-serif" fill="#777">3.50</text>
<line x1="132.2" y1="428.8" x2="132.2" y2="430" stroke="#888" stroke-width="0.4"/>
<text x="132.2" y="433.4" font-size="3.4" text-anchor="middle" font-family="Liberation Sans, sans-serif" fill="#777">3.45</text>
<line x1="143.7" y1="428.8" x2="143.7" y2="430" stroke="#888" stroke-width="0.4"/>
<text x="143.7" y="433.4" font-size="3.4" text-anchor="middle" font-family="Liberation Sans, sans-serif" fill="#777">3.40</text>
<line x1="155.1" y1="428.8" x2="155.1" y2="430" stroke="#888" stroke-width="0.4"/>
<text x="155.1" y="433.4" font-size="3.4" text-anchor="middle" font-family="Liberation Sans, sans-serif" fill="#777">3.35</text>
<line x1="166.6" y1="428.8" x2="166.6" y2="430" stroke="#888" stroke-width="0.4"/>
<text x="166.6" y="433.4" font-size="3.4" text-anchor="middle" font-family="Liberation Sans, sans-serif" fill="#777">3.30</text>
<line x1="178.1" y1="428.8" x2="178.1" y2="430" stroke="#888" stroke-width="0.4"/>
<text x="178.1" y="433.4" font-size="3.4" text-anchor="middle" font-family="Liberation Sans, sans-serif" fill="#777">3.25</text>
<line x1="189.6" y1="428.8" x2="189.6" y2="430" stroke="#888" stroke-width="0.4"/>
<text x="189.6" y="433.4" font-size="3.4" text-anchor="middle" font-family="Liberation Sans, sans-serif" fill="#777">3.20</text>
<line x1="201.1" y1="428.8" x2="201.1" y2="430" stroke="#888" stroke-width="0.4"/>
<text x="201.1" y="433.4" font-size="3.4" text-anchor="middle" font-family="Liberation Sans, sans-serif" fill="#777">3.15</text>
<line x1="212.5" y1="428.8" x2="212.5" y2="430" stroke="#888" stroke-width="0.4"/>
<text x="212.5" y="433.4" font-size="3.4" text-anchor="middle" font-family="Liberation Sans, sans-serif" fill="#777">3.10</text>
<text x="107.4" y="436" font-size="3.4" text-anchor="middle" font-family="Liberation Sans, sans-serif" fill="#777">f1 (ppm)</text>
<text x="198.8" y="309.3" font-size="21.5" font-weight="bold" font-family="Liberation Sans, sans-serif" fill="#000" stroke="#000" stroke-width="0.7">B</text>
<line x1="3.9" y1="285.9" x2="222.5" y2="285.9" stroke="#2b7bbd" stroke-width="1.9" stroke-dasharray="10.3 4.05" stroke-dashoffset="11.25"/><line x1="222.5" y1="285.9" x2="222.5" y2="439.8" stroke="#2b7bbd" stroke-width="1.9" stroke-dasharray="10.3 4.05" stroke-dashoffset="1.75"/><line x1="3.9" y1="439.8" x2="222.5" y2="439.8" stroke="#2b7bbd" stroke-width="1.9" stroke-dasharray="10.3 4.05" stroke-dashoffset="9.10"/><line x1="3.9" y1="285.9" x2="3.9" y2="439.8" stroke="#2b7bbd" stroke-width="1.9" stroke-dasharray="10.3 4.05" stroke-dashoffset="13.80"/>
<rect x="305.8" y="289.6" width="212.5" height="133.6" fill="none" stroke="#e2e2e2" stroke-width="0.8"/>
<line x1="519.3" y1="289.6" x2="519.3" y2="424" stroke="#b0b0b0" stroke-width="0.8"/>
<line x1="519.3" y1="322.5" x2="521" y2="322.5" stroke="#777" stroke-width="0.5"/>
<line x1="519.3" y1="390" x2="521" y2="390" stroke="#777" stroke-width="0.5"/>
<path d="M306.00 350.26 L308.80 350.20 L310.20 350.08 L311.00 349.89 L312.00 349.34 L312.30 349.25 L312.60 349.33 L313.60 349.86 L314.20 350.00 L314.80 350.05 L316.00 349.96 L316.60 349.79 L317.20 349.50 L317.50 349.44 L317.80 349.51 L318.40 349.81 L319.00 350.01 L319.80 350.13 L321.00 350.20 L330.80 350.22 L334.40 350.16 L336.60 350.05 L338.40 349.83 L339.60 349.45 L340.40 348.95 L341.60 347.80 L342.00 347.64 L342.40 347.79 L343.60 348.93 L344.20 349.32 L345.20 349.69 L346.40 349.88 L348.80 349.94 L349.80 349.86 L350.60 349.73 L351.60 349.37 L352.00 349.12 L353.00 348.33 L353.40 348.20 L353.80 348.34 L354.80 349.14 L355.40 349.49 L356.00 349.71 L356.80 349.88 L358.20 350.02 L360.40 350.08 L363.00 350.06 L365.20 349.94 L366.40 349.79 L367.40 349.55 L368.20 349.18 L368.80 348.69 L369.20 348.18 L369.60 347.46 L370.60 344.76 L370.80 344.38 L371.00 344.24 L371.20 344.38 L371.40 344.76 L372.20 347.00 L372.80 348.18 L373.20 348.69 L373.60 349.04 L374.20 349.39 L374.80 349.61 L375.60 349.79 L376.80 349.94 L380.40 350.09 L386.20 350.06 L388.40 349.97 L390.00 349.84 L391.20 349.63 L392.20 349.31 L392.80 348.97 L393.40 348.41 L393.80 347.82 L394.20 346.96 L395.20 343.72 L395.40 343.36 L395.50 343.30 L395.60 343.32 L395.80 343.63 L396.60 346.02 L396.80 346.50 L397.20 347.17 L397.40 347.38 L397.80 347.60 L398.20 347.58 L398.60 347.31 L399.00 346.72 L399.40 345.68 L399.80 343.96 L400.40 340.32 L400.60 339.47 L400.70 339.26 L400.80 339.21 L401.00 339.53 L401.40 340.76 L401.60 341.14 L401.80 341.22 L402.20 340.82 L402.40 340.78 L402.60 341.14 L403.60 345.92 L403.80 346.59 L404.20 347.56 L404.60 348.18 L405.20 348.74 L405.80 349.04 L406.40 349.18 L407.20 349.17 L407.80 348.97 L408.40 348.52 L409.20 347.61 L409.50 347.48 L409.80 347.65 L410.80 348.91 L411.40 349.37 L412.40 349.75 L414.20 350.00 L418.80 350.16 L423.40 350.10 L424.40 350.00 L425.00 349.88 L426.20 349.34 L426.60 349.24 L427.00 349.34 L427.80 349.75 L428.40 349.94 L430.20 350.15 L436.20 350.25 L445.60 350.21 L447.00 350.10 L447.40 350.02 L447.80 349.84 L448.20 349.42 L448.40 349.02 L448.80 347.86 L448.90 347.77 L449.00 347.86 L449.40 349.01 L449.60 349.42 L450.00 349.84 L450.40 350.01 L451.00 350.13 L452.20 350.20 L456.60 350.19 L458.80 350.05 L459.40 349.94 L460.00 349.73 L460.60 349.27 L461.40 348.03 L461.60 347.81 L461.70 347.78 L461.80 347.81 L462.00 348.03 L462.60 349.03 L463.00 349.47 L463.60 349.82 L464.20 349.99 L465.20 350.12 L466.80 350.20 L472.60 350.23 L473.00 350.11 L473.20 349.95 L473.40 349.63 L473.60 349.07 L473.80 348.16 L474.20 344.97 L475.00 335.95 L475.20 334.89 L475.30 334.75 L475.40 334.89 L475.60 335.94 L476.40 344.96 L476.80 348.15 L477.00 349.06 L477.20 349.62 L477.40 349.94 L477.80 350.19 L478.60 350.24 L482.20 350.19 L484.00 350.12 L485.20 350.00 L485.80 349.88 L486.40 349.68 L486.80 349.46 L487.60 348.84 L488.00 348.68 L488.40 348.82 L489.20 349.38 L489.80 349.64 L490.60 349.77 L491.60 349.73 L492.40 349.56 L493.00 349.31 L493.60 348.89 L494.60 347.91 L495.00 347.75 L495.40 347.92 L496.40 348.93 L497.20 349.48 L498.20 349.82 L499.40 350.02 L501.20 350.14 L504.20 350.22 L517.20 350.28 L517.20 350.30 L306.00 350.30 Z" fill="#5656a8" fill-opacity="0.55" stroke="none"/>
<path d="M306.00 350.26 L308.80 350.20 L310.20 350.08 L311.00 349.89 L312.00 349.34 L312.30 349.25 L312.60 349.33 L313.60 349.86 L314.20 350.00 L314.80 350.05 L316.00 349.96 L316.60 349.79 L317.20 349.50 L317.50 349.44 L317.80 349.51 L318.40 349.81 L319.00 350.01 L319.80 350.13 L321.00 350.20 L330.80 350.22 L334.40 350.16 L336.60 350.05 L338.40 349.83 L339.60 349.45 L340.40 348.95 L341.60 347.80 L342.00 347.64 L342.40 347.79 L343.60 348.93 L344.20 349.32 L345.20 349.69 L346.40 349.88 L348.80 349.94 L349.80 349.86 L350.60 349.73 L351.60 349.37 L352.00 349.12 L353.00 348.33 L353.40 348.20 L353.80 348.34 L354.80 349.14 L355.40 349.49 L356.00 349.71 L356.80 349.88 L358.20 350.02 L360.40 350.08 L363.00 350.06 L365.20 349.94 L366.40 349.79 L367.40 349.55 L368.20 349.18 L368.80 348.69 L369.20 348.18 L369.60 347.46 L370.60 344.76 L370.80 344.38 L371.00 344.24 L371.20 344.38 L371.40 344.76 L372.20 347.00 L372.80 348.18 L373.20 348.69 L373.60 349.04 L374.20 349.39 L374.80 349.61 L375.60 349.79 L376.80 349.94 L380.40 350.09 L386.20 350.06 L388.40 349.97 L390.00 349.84 L391.20 349.63 L392.20 349.31 L392.80 348.97 L393.40 348.41 L393.80 347.82 L394.20 346.96 L395.20 343.72 L395.40 343.36 L395.50 343.30 L395.60 343.32 L395.80 343.63 L396.60 346.02 L396.80 346.50 L397.20 347.17 L397.40 347.38 L397.80 347.60 L398.20 347.58 L398.60 347.31 L399.00 346.72 L399.40 345.68 L399.80 343.96 L400.40 340.32 L400.60 339.47 L400.70 339.26 L400.80 339.21 L401.00 339.53 L401.40 340.76 L401.60 341.14 L401.80 341.22 L402.20 340.82 L402.40 340.78 L402.60 341.14 L403.60 345.92 L403.80 346.59 L404.20 347.56 L404.60 348.18 L405.20 348.74 L405.80 349.04 L406.40 349.18 L407.20 349.17 L407.80 348.97 L408.40 348.52 L409.20 347.61 L409.50 347.48 L409.80 347.65 L410.80 348.91 L411.40 349.37 L412.40 349.75 L414.20 350.00 L418.80 350.16 L423.40 350.10 L424.40 350.00 L425.00 349.88 L426.20 349.34 L426.60 349.24 L427.00 349.34 L427.80 349.75 L428.40 349.94 L430.20 350.15 L436.20 350.25 L445.60 350.21 L447.00 350.10 L447.40 350.02 L447.80 349.84 L448.20 349.42 L448.40 349.02 L448.80 347.86 L448.90 347.77 L449.00 347.86 L449.40 349.01 L449.60 349.42 L450.00 349.84 L450.40 350.01 L451.00 350.13 L452.20 350.20 L456.60 350.19 L458.80 350.05 L459.40 349.94 L460.00 349.73 L460.60 349.27 L461.40 348.03 L461.60 347.81 L461.70 347.78 L461.80 347.81 L462.00 348.03 L462.60 349.03 L463.00 349.47 L463.60 349.82 L464.20 349.99 L465.20 350.12 L466.80 350.20 L472.60 350.23 L473.00 350.11 L473.20 349.95 L473.40 349.63 L473.60 349.07 L473.80 348.16 L474.20 344.97 L475.00 335.95 L475.20 334.89 L475.30 334.75 L475.40 334.89 L475.60 335.94 L476.40 344.96 L476.80 348.15 L477.00 349.06 L477.20 349.62 L477.40 349.94 L477.80 350.19 L478.60 350.24 L482.20 350.19 L484.00 350.12 L485.20 350.00 L485.80 349.88 L486.40 349.68 L486.80 349.46 L487.60 348.84 L488.00 348.68 L488.40 348.82 L489.20 349.38 L489.80 349.64 L490.60 349.77 L491.60 349.73 L492.40 349.56 L493.00 349.31 L493.60 348.89 L494.60 347.91 L495.00 347.75 L495.40 347.92 L496.40 348.93 L497.20 349.48 L498.20 349.82 L499.40 350.02 L501.20 350.14 L504.20 350.22 L517.20 350.28" fill="none" stroke="#4a4a92" stroke-width="0.7"/>
<path d="M306.00 417.33 L307.80 417.28 L309.00 417.17 L309.80 416.95 L310.20 416.69 L310.60 416.10 L310.80 415.53 L311.20 413.54 L311.40 412.93 L311.60 413.53 L312.00 415.51 L312.20 416.08 L312.60 416.65 L313.20 416.97 L314.00 417.08 L315.00 417.03 L315.80 416.80 L316.20 416.50 L316.40 416.24 L316.60 415.84 L316.80 415.21 L317.00 414.21 L317.40 411.35 L317.50 411.11 L317.60 411.35 L318.00 414.21 L318.20 415.21 L318.40 415.84 L318.80 416.51 L319.40 416.90 L320.00 417.05 L320.60 417.12 L322.60 417.10 L323.20 417.02 L323.80 416.86 L324.20 416.65 L324.60 416.23 L325.00 415.29 L325.20 414.39 L325.60 411.21 L325.80 410.24 L326.00 411.20 L326.40 414.34 L326.60 415.23 L326.80 415.78 L327.00 416.13 L327.40 416.49 L327.80 416.62 L328.40 416.56 L328.80 416.32 L329.20 415.69 L329.40 415.07 L329.60 414.07 L330.00 411.22 L330.10 410.99 L330.20 411.23 L330.60 414.09 L330.80 415.09 L331.00 415.72 L331.20 416.12 L331.40 416.37 L331.80 416.66 L332.40 416.81 L333.20 416.75 L333.60 416.56 L334.00 416.13 L334.20 415.72 L334.40 415.05 L334.80 412.71 L335.00 412.00 L335.20 412.71 L335.60 415.07 L335.80 415.73 L336.20 416.42 L336.40 416.60 L336.80 416.80 L337.60 416.95 L339.00 416.90 L340.00 416.65 L340.60 416.28 L341.00 415.81 L341.40 414.91 L341.60 414.13 L341.80 412.94 L342.00 411.08 L342.60 402.07 L342.80 402.83 L343.00 404.51 L343.40 405.66 L343.80 410.52 L344.00 412.57 L344.20 413.91 L344.40 414.79 L344.80 415.77 L345.20 416.28 L345.80 416.67 L346.40 416.88 L347.20 417.02 L349.60 417.18 L353.40 417.15 L354.60 417.06 L355.40 416.90 L356.00 416.58 L356.40 416.07 L356.60 415.58 L356.80 414.81 L357.20 412.62 L357.30 412.43 L357.40 412.61 L357.80 414.75 L358.00 415.50 L358.20 415.96 L358.40 416.24 L358.80 416.52 L359.20 416.61 L359.80 416.55 L360.40 416.22 L360.80 415.64 L361.00 415.09 L361.20 414.23 L361.60 411.77 L361.70 411.52 L361.80 411.65 L362.20 413.58 L362.40 414.07 L362.60 414.09 L362.80 413.66 L363.20 411.38 L363.40 410.62 L363.60 411.32 L364.00 413.48 L364.20 413.86 L364.40 413.78 L364.60 413.24 L365.00 410.66 L365.20 409.77 L365.40 410.45 L365.60 411.68 L365.80 412.41 L366.00 412.41 L366.20 411.68 L366.40 410.46 L366.60 409.80 L366.80 410.73 L367.20 413.49 L367.40 414.22 L367.60 414.64 L367.80 414.84 L368.00 414.89 L368.20 414.83 L368.40 414.65 L368.60 414.35 L368.80 413.88 L369.20 412.13 L369.40 410.50 L369.60 407.97 L370.10 399.44 L370.20 399.23 L370.40 400.14 L370.60 399.81 L370.80 395.97 L371.20 375.48 L371.30 373.19 L371.40 375.51 L371.80 396.27 L372.00 400.39 L372.20 400.86 L372.60 395.88 L372.70 395.66 L372.80 396.75 L373.20 406.08 L373.40 409.31 L373.60 411.38 L373.80 412.70 L374.00 413.57 L374.20 414.14 L374.40 414.50 L374.60 414.69 L374.80 414.71 L375.00 414.53 L375.20 414.06 L375.60 412.47 L375.70 412.37 L375.80 412.58 L376.20 414.58 L376.40 415.29 L376.60 415.76 L377.00 416.28 L377.60 416.63 L378.20 416.81 L379.20 416.97 L380.80 417.08 L383.40 417.15 L386.60 417.14 L389.00 417.06 L390.80 416.91 L392.00 416.70 L392.80 416.44 L393.40 416.07 L394.00 415.39 L394.40 414.52 L394.80 412.82 L395.00 411.30 L395.20 408.89 L395.40 404.90 L395.80 389.14 L396.00 383.64 L396.20 389.03 L396.60 404.56 L396.80 408.42 L397.00 410.69 L397.20 412.05 L397.40 412.89 L397.60 413.38 L397.80 413.65 L398.00 413.74 L398.20 413.68 L398.40 413.46 L398.60 413.08 L399.00 411.54 L399.20 410.14 L399.40 407.96 L399.60 404.54 L400.00 392.56 L400.20 388.31 L400.40 390.22 L400.60 394.11 L400.80 395.37 L401.00 392.35 L401.20 383.40 L401.60 357.11 L402.00 385.39 L402.20 395.85 L402.40 401.18 L402.60 403.39 L402.80 403.34 L403.00 401.24 L403.20 397.72 L403.40 395.98 L403.60 399.01 L404.00 407.89 L404.20 410.47 L404.40 412.13 L404.60 413.24 L405.00 414.56 L405.40 415.28 L405.80 415.71 L406.20 415.98 L406.60 416.15 L407.20 416.27 L407.60 416.26 L408.00 416.15 L408.40 415.89 L408.80 415.30 L409.00 414.75 L409.20 413.88 L409.40 412.49 L409.80 407.55 L410.00 406.05 L410.20 407.58 L410.60 412.58 L410.80 414.01 L411.00 414.91 L411.20 415.50 L411.60 416.17 L412.00 416.51 L412.60 416.79 L414.00 417.05 L416.60 417.20 L422.00 417.27 L424.60 417.17 L425.40 416.95 L425.80 416.61 L426.00 416.29 L426.40 415.16 L426.60 414.82 L426.80 415.16 L427.20 416.29 L427.40 416.61 L427.80 416.95 L428.20 417.09 L429.00 417.20 L431.40 417.20 L432.20 417.07 L432.60 416.90 L432.80 416.73 L433.20 416.08 L433.60 414.92 L433.70 414.83 L433.80 414.92 L434.20 416.08 L434.60 416.74 L435.00 417.01 L435.60 417.17 L437.80 417.29 L442.40 417.28 L444.80 417.16 L446.00 416.95 L446.60 416.67 L447.00 416.29 L447.40 415.50 L447.60 414.73 L447.80 413.45 L448.00 411.17 L448.40 402.47 L448.50 401.54 L448.60 402.47 L449.00 411.17 L449.20 413.45 L449.40 414.73 L449.60 415.49 L450.00 416.28 L450.40 416.66 L451.20 416.98 L452.20 417.13 L454.00 417.21 L456.40 417.18 L457.80 417.09 L458.80 416.92 L459.40 416.72 L460.00 416.29 L460.40 415.71 L460.60 415.21 L460.80 414.44 L461.00 413.21 L461.20 411.19 L461.60 404.52 L461.70 403.70 L461.80 403.95 L462.00 406.11 L462.20 407.46 L462.40 407.11 L462.60 406.90 L463.00 411.54 L463.20 413.42 L463.40 414.58 L463.60 415.30 L464.00 416.09 L464.40 416.48 L465.00 416.77 L465.80 416.95 L466.80 417.03 L468.40 417.03 L469.80 416.92 L471.00 416.69 L471.80 416.37 L472.40 415.95 L473.00 415.15 L473.40 414.16 L473.60 413.40 L474.00 410.79 L474.20 408.43 L474.40 404.61 L474.60 397.95 L474.80 385.45 L475.20 327.67 L475.30 320.35 L475.40 327.67 L475.80 385.45 L476.00 397.95 L476.20 404.61 L476.40 408.43 L476.60 410.80 L476.80 412.34 L477.00 413.41 L477.40 414.73 L477.80 415.49 L478.40 416.13 L479.00 416.49 L479.80 416.76 L481.00 416.98 L482.80 417.11 L484.60 417.11 L485.80 416.96 L486.40 416.67 L486.80 416.12 L487.00 415.52 L487.20 414.46 L487.60 411.69 L488.20 415.46 L488.40 416.03 L488.60 416.34 L488.80 416.52 L489.20 416.62 L489.60 416.47 L489.80 416.25 L490.00 415.84 L490.20 415.08 L490.60 413.08 L491.20 415.79 L491.40 416.18 L491.60 416.36 L491.80 416.43 L492.00 416.40 L492.20 416.27 L492.40 416.00 L492.60 415.48 L493.20 411.99 L493.60 414.39 L493.80 415.26 L494.00 415.64 L494.20 415.70 L494.40 415.45 L494.60 414.79 L495.00 412.88 L495.40 414.84 L495.60 415.53 L495.80 415.82 L496.00 415.83 L496.20 415.59 L496.60 414.63 L496.70 414.56 L496.80 414.68 L497.20 415.91 L497.60 416.62 L498.00 416.92 L498.60 417.11 L500.00 417.26 L502.40 417.33 L517.20 417.38" fill="none" stroke="#6a6a6a" stroke-width="0.7"/>
<line x1="306" y1="428.4" x2="518" y2="428.4" stroke="#aaa" stroke-width="0.7"/>
<line x1="314.0" y1="428.4" x2="314.0" y2="429.6" stroke="#888" stroke-width="0.4"/>
<text x="314.0" y="432.9" font-size="3.4" text-anchor="middle" font-family="Liberation Sans, sans-serif" fill="#777">3.0</text>
<line x1="322.9" y1="428.4" x2="322.9" y2="429.6" stroke="#888" stroke-width="0.4"/>
<text x="322.9" y="432.9" font-size="3.4" text-anchor="middle" font-family="Liberation Sans, sans-serif" fill="#777">2.9</text>
<line x1="331.8" y1="428.4" x2="331.8" y2="429.6" stroke="#888" stroke-width="0.4"/>
<text x="331.8" y="432.9" font-size="3.4" text-anchor="middle" font-family="Liberation Sans, sans-serif" fill="#777">2.8</text>
<line x1="340.7" y1="428.4" x2="340.7" y2="429.6" stroke="#888" stroke-width="0.4"/>
<text x="340.7" y="432.9" font-size="3.4" text-anchor="middle" font-family="Liberation Sans, sans-serif" fill="#777">2.7</text>
<line x1="349.6" y1="428.4" x2="349.6" y2="429.6" stroke="#888" stroke-width="0.4"/>
<text x="349.6" y="432.9" font-size="3.4" text-anchor="middle" font-family="Liberation Sans, sans-serif" fill="#777">2.6</text>
<line x1="358.4" y1="428.4" x2="358.4" y2="429.6" stroke="#888" stroke-width="0.4"/>
<text x="358.4" y="432.9" font-size="3.4" text-anchor="middle" font-family="Liberation Sans, sans-serif" fill="#777">2.5</text>
<line x1="367.3" y1="428.4" x2="367.3" y2="429.6" stroke="#888" stroke-width="0.4"/>
<text x="367.3" y="432.9" font-size="3.4" text-anchor="middle" font-family="Liberation Sans, sans-serif" fill="#777">2.4</text>
<line x1="376.2" y1="428.4" x2="376.2" y2="429.6" stroke="#888" stroke-width="0.4"/>
<text x="376.2" y="432.9" font-size="3.4" text-anchor="middle" font-family="Liberation Sans, sans-serif" fill="#777">2.3</text>
<line x1="385.1" y1="428.4" x2="385.1" y2="429.6" stroke="#888" stroke-width="0.4"/>
<text x="385.1" y="432.9" font-size="3.4" text-anchor="middle" font-family="Liberation Sans, sans-serif" fill="#777">2.2</text>
<line x1="394.0" y1="428.4" x2="394.0" y2="429.6" stroke="#888" stroke-width="0.4"/>
<text x="394.0" y="432.9" font-size="3.4" text-anchor="middle" font-family="Liberation Sans, sans-serif" fill="#777">2.1</text>
<line x1="402.9" y1="428.4" x2="402.9" y2="429.6" stroke="#888" stroke-width="0.4"/>
<text x="402.9" y="432.9" font-size="3.4" text-anchor="middle" font-family="Liberation Sans, sans-serif" fill="#777">2.0</text>
<line x1="411.8" y1="428.4" x2="411.8" y2="429.6" stroke="#888" stroke-width="0.4"/>
<text x="411.8" y="432.9" font-size="3.4" text-anchor="middle" font-family="Liberation Sans, sans-serif" fill="#777">1.9</text>
<line x1="420.7" y1="428.4" x2="420.7" y2="429.6" stroke="#888" stroke-width="0.4"/>
<text x="420.7" y="432.9" font-size="3.4" text-anchor="middle" font-family="Liberation Sans, sans-serif" fill="#777">1.8</text>
<line x1="429.6" y1="428.4" x2="429.6" y2="429.6" stroke="#888" stroke-width="0.4"/>
<text x="429.6" y="432.9" font-size="3.4" text-anchor="middle" font-family="Liberation Sans, sans-serif" fill="#777">1.7</text>
<line x1="438.5" y1="428.4" x2="438.5" y2="429.6" stroke="#888" stroke-width="0.4"/>
<text x="438.5" y="432.9" font-size="3.4" text-anchor="middle" font-family="Liberation Sans, sans-serif" fill="#777">1.6</text>
<line x1="447.4" y1="428.4" x2="447.4" y2="429.6" stroke="#888" stroke-width="0.4"/>
<text x="447.4" y="432.9" font-size="3.4" text-anchor="middle" font-family="Liberation Sans, sans-serif" fill="#777">1.5</text>
<line x1="456.2" y1="428.4" x2="456.2" y2="429.6" stroke="#888" stroke-width="0.4"/>
<text x="456.2" y="432.9" font-size="3.4" text-anchor="middle" font-family="Liberation Sans, sans-serif" fill="#777">1.4</text>
<line x1="465.1" y1="428.4" x2="465.1" y2="429.6" stroke="#888" stroke-width="0.4"/>
<text x="465.1" y="432.9" font-size="3.4" text-anchor="middle" font-family="Liberation Sans, sans-serif" fill="#777">1.3</text>
<line x1="474.0" y1="428.4" x2="474.0" y2="429.6" stroke="#888" stroke-width="0.4"/>
<text x="474.0" y="432.9" font-size="3.4" text-anchor="middle" font-family="Liberation Sans, sans-serif" fill="#777">1.2</text>
<line x1="482.9" y1="428.4" x2="482.9" y2="429.6" stroke="#888" stroke-width="0.4"/>
<text x="482.9" y="432.9" font-size="3.4" text-anchor="middle" font-family="Liberation Sans, sans-serif" fill="#777">1.1</text>
<line x1="491.8" y1="428.4" x2="491.8" y2="429.6" stroke="#888" stroke-width="0.4"/>
<text x="491.8" y="432.9" font-size="3.4" text-anchor="middle" font-family="Liberation Sans, sans-serif" fill="#777">1.0</text>
<line x1="500.7" y1="428.4" x2="500.7" y2="429.6" stroke="#888" stroke-width="0.4"/>
<text x="500.7" y="432.9" font-size="3.4" text-anchor="middle" font-family="Liberation Sans, sans-serif" fill="#777">0.9</text>
<line x1="509.6" y1="428.4" x2="509.6" y2="429.6" stroke="#888" stroke-width="0.4"/>
<text x="509.6" y="432.9" font-size="3.4" text-anchor="middle" font-family="Liberation Sans, sans-serif" fill="#777">0.8</text>
<text x="407" y="435.6" font-size="3.4" text-anchor="middle" font-family="Liberation Sans, sans-serif" fill="#777">f1 (ppm)</text>
<rect x="313.5" y="394.4" width="33.8" height="28.9" fill="none" stroke="#111" stroke-width="1.3"/>
<rect x="367.4" y="370.4" width="7.1" height="53.3" fill="none" stroke="#111" stroke-width="1.3"/>
<rect x="481.3" y="403.2" width="23.3" height="19.2" fill="none" stroke="#111" stroke-width="1.3"/>
<text x="502.2" y="305.1" font-size="21.8" font-weight="bold" font-family="Liberation Sans, sans-serif" fill="#000" stroke="#000" stroke-width="0.7">C</text>
<line x1="301.3" y1="281.6" x2="526.1" y2="281.6" stroke="#2b7bbd" stroke-width="1.9" stroke-dasharray="10.3 4.05" stroke-dashoffset="13.80"/><line x1="526.1" y1="281.6" x2="526.1" y2="438.6" stroke="#2b7bbd" stroke-width="1.9" stroke-dasharray="10.3 4.05" stroke-dashoffset="6.70"/><line x1="301.3" y1="438.6" x2="526.1" y2="438.6" stroke="#2b7bbd" stroke-width="1.9" stroke-dasharray="10.3 4.05" stroke-dashoffset="5.05"/><line x1="301.3" y1="281.6" x2="301.3" y2="438.6" stroke="#2b7bbd" stroke-width="1.9" stroke-dasharray="10.3 4.05" stroke-dashoffset="11.15"/>
<line x1="313.5" y1="423.3" x2="277.7" y2="447.5" stroke="#222" stroke-width="1.2"/>
<line x1="374.5" y1="423.7" x2="428" y2="447.5" stroke="#222" stroke-width="1.2"/>
<line x1="504.6" y1="422.4" x2="567.5" y2="446.6" stroke="#222" stroke-width="1.2"/>
<line x1="1" y1="443.1" x2="677.2" y2="443.1" stroke="#2b7bbd" stroke-width="1.9" stroke-dasharray="10.3 4.05" stroke-dashoffset="8.95"/><line x1="677.2" y1="443.1" x2="677.2" y2="594.4" stroke="#2b7bbd" stroke-width="1.9" stroke-dasharray="10.3 4.05" stroke-dashoffset="12.15"/><line x1="1" y1="594.4" x2="677.2" y2="594.4" stroke="#2b7bbd" stroke-width="1.9" stroke-dasharray="10.3 4.05" stroke-dashoffset="0.60"/><line x1="1" y1="443.1" x2="1" y2="594.4" stroke="#2b7bbd" stroke-width="1.9" stroke-dasharray="10.3 4.05" stroke-dashoffset="2.35"/>
<text x="655.8" y="463.1" font-size="22.5" font-weight="bold" font-family="Liberation Sans, sans-serif" fill="#000" stroke="#000" stroke-width="0.7">D</text>
<path d="M5.50 474.95 L7.70 474.79 L9.10 474.55 L10.10 474.19 L10.50 473.95 L10.90 473.59 L11.50 472.69 L11.90 471.64 L12.90 467.16 L13.10 466.83 L13.30 467.12 L14.30 471.42 L14.50 471.97 L14.90 472.72 L15.10 472.97 L15.50 473.29 L15.90 473.46 L16.30 473.50 L16.70 473.45 L17.10 473.30 L17.70 472.83 L18.10 472.27 L18.30 471.87 L18.70 470.72 L18.90 469.89 L19.30 467.47 L19.90 462.35 L20.10 461.25 L20.30 460.89 L20.70 461.05 L20.90 460.67 L21.30 458.78 L21.50 458.23 L21.60 458.34 L21.70 458.76 L22.50 466.76 L22.70 468.31 L23.10 470.47 L23.50 471.78 L23.90 472.60 L24.50 473.36 L25.30 473.90 L26.10 474.19 L27.30 474.41 L28.50 474.47 L29.70 474.40 L30.50 474.26 L31.30 473.96 L31.90 473.54 L32.30 473.07 L32.70 472.34 L32.90 471.82 L33.30 470.27 L33.70 467.70 L34.30 462.57 L34.50 461.96 L34.70 462.57 L35.50 469.14 L35.90 471.16 L36.10 471.83 L36.50 472.77 L36.90 473.35 L37.50 473.86 L37.90 474.08 L38.50 474.28 L39.30 474.43 L40.10 474.50 L41.70 474.41 L42.30 474.28 L42.90 474.03 L43.50 473.57 L43.90 473.02 L44.30 472.17 L44.90 470.44 L45.10 470.08 L45.20 470.01 L45.30 470.03 L45.50 470.30 L46.10 471.67 L46.50 472.19 L46.70 472.27 L46.90 472.24 L47.10 472.09 L47.30 471.83 L47.90 470.64 L48.10 470.41 L48.20 470.39 L48.30 470.45 L48.50 470.78 L49.30 472.71 L49.70 473.30 L50.10 473.65 L50.70 473.92 L51.30 474.02 L52.10 473.96 L52.70 473.77 L53.10 473.56 L53.50 473.24 L54.10 472.43 L54.50 471.48 L54.90 469.89 L55.30 467.09 L55.50 464.95 L56.10 455.15 L56.30 452.72 L56.40 452.37 L56.50 452.71 L56.70 455.13 L57.10 462.10 L57.50 467.04 L57.70 468.63 L58.10 470.70 L58.50 471.89 L58.90 472.60 L59.50 473.17 L59.90 473.34 L60.30 473.39 L60.90 473.23 L61.30 472.91 L61.50 472.65 L61.90 471.83 L62.10 471.21 L62.50 469.37 L62.90 467.06 L63.10 466.33 L63.20 466.24 L63.30 466.35 L63.50 467.11 L64.10 470.55 L64.50 472.06 L64.70 472.57 L65.10 473.28 L65.70 473.88 L66.30 474.20 L66.90 474.39 L67.70 474.53 L68.90 474.62 L70.30 474.63 L71.50 474.54 L72.50 474.38 L73.30 474.14 L73.90 473.83 L74.30 473.52 L74.90 472.77 L75.30 471.89 L75.50 471.26 L75.90 469.31 L76.30 465.65 L76.50 462.67 L77.10 448.72 L77.30 446.58 L77.50 448.72 L78.10 462.65 L78.30 465.62 L78.70 469.26 L79.10 471.20 L79.50 472.30 L80.10 473.21 L80.50 473.55 L81.10 473.86 L81.70 474.02 L82.30 474.06 L82.90 474.00 L83.50 473.81 L83.90 473.56 L84.30 473.17 L84.70 472.52 L84.90 472.05 L85.30 470.56 L85.50 469.41 L85.70 467.88 L86.30 461.72 L86.50 460.90 L86.70 461.73 L87.30 467.91 L87.50 469.44 L87.90 471.46 L88.30 472.59 L88.70 473.25 L89.30 473.79 L90.10 474.10 L90.90 474.11 L91.50 473.88 L91.90 473.54 L92.70 472.51 L92.90 472.43 L93.10 472.53 L93.90 473.68 L94.30 474.08 L94.70 474.34 L95.30 474.56 L96.50 474.75 L98.10 474.80 L99.70 474.74 L100.90 474.54 L101.70 474.22 L102.30 473.70 L102.70 473.05 L103.50 470.95 L103.70 470.73 L103.90 470.89 L104.50 472.34 L104.90 473.01 L105.30 473.32 L105.50 473.37 L105.90 473.29 L106.30 472.97 L106.50 472.69 L106.90 471.80 L107.30 470.22 L107.90 466.56 L108.10 465.76 L108.20 465.66 L108.30 465.78 L108.50 466.60 L108.90 469.20 L109.30 471.28 L109.70 472.56 L110.10 473.33 L110.70 473.98 L111.30 474.33 L112.30 474.63 L113.70 474.82 L115.90 474.92 L118.30 474.91 L119.90 474.76 L120.70 474.56 L121.30 474.23 L121.70 473.86 L122.30 473.09 L122.60 472.91 L122.90 473.04 L123.50 473.69 L123.90 473.98 L124.30 474.09 L124.70 474.06 L125.10 473.88 L125.50 473.50 L126.30 472.18 L126.50 471.97 L126.60 471.94 L126.90 472.20 L127.50 473.31 L127.90 473.85 L128.50 474.31 L129.10 474.53 L130.30 474.65 L131.30 474.53 L131.90 474.28 L132.90 473.44 L133.10 473.38 L133.30 473.43 L134.10 474.07 L134.50 474.28 L135.10 474.41 L135.90 474.36 L136.70 474.05 L137.30 473.53 L137.70 472.90 L138.50 471.09 L138.70 470.88 L138.90 470.92 L139.50 471.72 L139.70 471.89 L139.90 471.94 L140.10 471.85 L140.30 471.61 L140.50 471.22 L141.30 468.45 L141.50 468.01 L141.60 467.97 L141.70 468.06 L141.90 468.59 L142.50 471.16 L142.70 471.86 L143.10 472.88 L143.70 473.76 L144.10 474.10 L144.50 474.33 L145.70 474.71 L147.70 474.94 L150.90 475.07 L156.30 475.14" fill="none" stroke="#a04a4a" stroke-width="0.8"/>
<rect x="5.5" y="478.5" width="151.3" height="72.8" fill="none" stroke="#dcdcdc" stroke-width="0.9"/>
<line x1="159.8" y1="478.3" x2="159.8" y2="551.4" stroke="#555" stroke-width="0.9"/>
<line x1="159.8" y1="491.1" x2="162" y2="491.1" stroke="#555" stroke-width="0.7"/>
<line x1="159.8" y1="510" x2="162" y2="510" stroke="#555" stroke-width="0.7"/>
<line x1="159.8" y1="528.1" x2="162" y2="528.1" stroke="#555" stroke-width="0.7"/>
<line x1="159.8" y1="546.9" x2="162" y2="546.9" stroke="#555" stroke-width="0.7"/>
<text x="163.8" y="512.7" font-size="7.5" font-family="Liberation Sans, sans-serif" fill="#333">0.00</text>
<text x="163.8" y="549.6" font-size="7.5" font-family="Liberation Sans, sans-serif" fill="#333">0.05</text>
<text x="0" y="0" font-size="7.7" text-anchor="middle" font-family="Liberation Sans, sans-serif" fill="#333" transform="translate(191.0,513.8) rotate(-90)" dy="2.69">f1 (ppm)</text>
<line x1="5.5" y1="554.2" x2="156.4" y2="554.2" stroke="#bbb" stroke-width="1.3"/>
<line x1="14.7" y1="554.2" x2="14.7" y2="556.2" stroke="#666" stroke-width="0.6"/>
<line x1="27.4" y1="554.2" x2="27.4" y2="556.2" stroke="#666" stroke-width="0.6"/>
<line x1="40.1" y1="554.2" x2="40.1" y2="556.2" stroke="#666" stroke-width="0.6"/>
<line x1="52.8" y1="554.2" x2="52.8" y2="556.2" stroke="#666" stroke-width="0.6"/>
<line x1="65.5" y1="554.2" x2="65.5" y2="556.2" stroke="#666" stroke-width="0.6"/>
<line x1="78.2" y1="554.2" x2="78.2" y2="556.2" stroke="#666" stroke-width="0.6"/>
<line x1="90.9" y1="554.2" x2="90.9" y2="556.2" stroke="#666" stroke-width="0.6"/>
<line x1="103.6" y1="554.2" x2="103.6" y2="556.2" stroke="#666" stroke-width="0.6"/>
<line x1="116.3" y1="554.2" x2="116.3" y2="556.2" stroke="#666" stroke-width="0.6"/>
<line x1="129.0" y1="554.2" x2="129.0" y2="556.2" stroke="#666" stroke-width="0.6"/>
<line x1="141.7" y1="554.2" x2="141.7" y2="556.2" stroke="#666" stroke-width="0.6"/>
<line x1="154.4" y1="554.2" x2="154.4" y2="556.2" stroke="#666" stroke-width="0.6"/>
<text x="27.4" y="567" font-size="7.5" text-anchor="middle" font-family="Liberation Sans, sans-serif" fill="#333">3.8</text>
<text x="52.8" y="567" font-size="7.5" text-anchor="middle" font-family="Liberation Sans, sans-serif" fill="#333">3.7</text>
<text x="78.2" y="567" font-size="7.5" text-anchor="middle" font-family="Liberation Sans, sans-serif" fill="#333">3.6</text>
<text x="103.6" y="567" font-size="7.5" text-anchor="middle" font-family="Liberation Sans, sans-serif" fill="#333">3.5</text>
<text x="129.0" y="567" font-size="7.5" text-anchor="middle" font-family="Liberation Sans, sans-serif" fill="#333">3.4</text>
<text x="154.4" y="567" font-size="7.5" text-anchor="middle" font-family="Liberation Sans, sans-serif" fill="#333">3.3</text>
<text x="82.5" y="574" font-size="7.5" text-anchor="middle" font-family="Liberation Sans, sans-serif" fill="#333">f2 (ppm)</text>
<ellipse cx="13.8" cy="505.4" rx="1.6" ry="2.6" fill="none" stroke="#d83a3a" stroke-width="0.85"/><ellipse cx="13.8" cy="514.8" rx="1.6" ry="2.6" fill="none" stroke="#d83a3a" stroke-width="0.85"/><ellipse cx="20" cy="510" rx="2.8" ry="8" fill="none" stroke="#d83a3a" stroke-width="0.95"/><ellipse cx="20" cy="510" rx="1.6" ry="5" fill="none" stroke="#d83a3a" stroke-width="0.85"/><ellipse cx="20" cy="510" rx="0.8" ry="2" fill="none" stroke="#d83a3a" stroke-width="1.0"/><ellipse cx="22.4" cy="499.5" rx="0.8" ry="1.2" fill="none" stroke="#d83a3a" stroke-width="0.85"/><ellipse cx="22.4" cy="503" rx="0.8" ry="1.2" fill="none" stroke="#d83a3a" stroke-width="0.85"/><ellipse cx="22.4" cy="517" rx="0.8" ry="1.2" fill="none" stroke="#d83a3a" stroke-width="0.85"/><ellipse cx="22.4" cy="520.5" rx="0.8" ry="1.2" fill="none" stroke="#d83a3a" stroke-width="0.85"/><ellipse cx="34.2" cy="498.8" rx="1.3" ry="1.7" fill="none" stroke="#d83a3a" stroke-width="0.95"/><ellipse cx="34.2" cy="502.3" rx="1.3" ry="1.7" fill="none" stroke="#d83a3a" stroke-width="0.95"/><ellipse cx="34.2" cy="506" rx="1.3" ry="1.7" fill="none" stroke="#d83a3a" stroke-width="0.95"/><ellipse cx="34.2" cy="510" rx="1.3" ry="1.7" fill="none" stroke="#d83a3a" stroke-width="0.95"/><ellipse cx="34.2" cy="514" rx="1.3" ry="1.7" fill="none" stroke="#d83a3a" stroke-width="0.95"/><ellipse cx="34.2" cy="517.7" rx="1.3" ry="1.7" fill="none" stroke="#d83a3a" stroke-width="0.95"/><ellipse cx="34.2" cy="521.2" rx="1.3" ry="1.7" fill="none" stroke="#d83a3a" stroke-width="0.95"/><ellipse cx="44.7" cy="500" rx="0.8" ry="0.9" fill="none" stroke="#d83a3a" stroke-width="0.85"/><ellipse cx="44.7" cy="506.6" rx="0.8" ry="0.9" fill="none" stroke="#d83a3a" stroke-width="0.85"/><ellipse cx="44.7" cy="513" rx="0.8" ry="0.9" fill="none" stroke="#d83a3a" stroke-width="0.85"/><ellipse cx="44.7" cy="519.5" rx="0.8" ry="0.9" fill="none" stroke="#d83a3a" stroke-width="0.85"/><ellipse cx="48.8" cy="503" rx="1.2" ry="1.5" fill="none" stroke="#d83a3a" stroke-width="0.85"/><ellipse cx="48.8" cy="516.5" rx="1.2" ry="1.5" fill="none" stroke="#d83a3a" stroke-width="0.85"/><path d="M53.6 510 L56.4 506.8 L59.2 510 L56.4 513.2 Z" fill="#d83a3a"/><ellipse cx="56.4" cy="510" rx="1.0" ry="1.3" fill="none" stroke="#fff" stroke-width="0.5"/><ellipse cx="63.2" cy="499.6" rx="0.9" ry="1.1" fill="#d83a3a" stroke="#d83a3a" stroke-width="0.6"/><ellipse cx="63.2" cy="520" rx="0.9" ry="1.1" fill="#d83a3a" stroke="#d83a3a" stroke-width="0.6"/><ellipse cx="63.2" cy="510" rx="1.0" ry="2.3" fill="none" stroke="#d83a3a" stroke-width="0.85"/><path d="M73.6 510 L76.8 507 L80 510 L76.8 513 Z" fill="#d83a3a"/><ellipse cx="76.8" cy="510" rx="1.0" ry="1.2" fill="none" stroke="#fff" stroke-width="0.5"/><ellipse cx="86.7" cy="503.7" rx="1.4" ry="3.4" fill="none" stroke="#d83a3a" stroke-width="0.95"/><ellipse cx="86.7" cy="503.7" rx="0.6" ry="1.5" fill="none" stroke="#d83a3a" stroke-width="0.85"/><ellipse cx="86.7" cy="515.6" rx="1.4" ry="3.4" fill="none" stroke="#d83a3a" stroke-width="0.95"/><ellipse cx="86.7" cy="515.6" rx="0.6" ry="1.5" fill="none" stroke="#d83a3a" stroke-width="0.85"/><ellipse cx="104.3" cy="500.2" rx="0.8" ry="0.8" fill="#d83a3a" stroke="#d83a3a" stroke-width="0.5"/><ellipse cx="108.4" cy="500.2" rx="1.0" ry="1.6" fill="none" stroke="#d83a3a" stroke-width="0.85"/><ellipse cx="126.7" cy="500.2" rx="0.6" ry="0.6" fill="#d83a3a" stroke="#d83a3a" stroke-width="0.5"/><ellipse cx="104.3" cy="510" rx="0.8" ry="0.8" fill="#d83a3a" stroke="#d83a3a" stroke-width="0.5"/><ellipse cx="108.4" cy="510" rx="1.0" ry="1.6" fill="none" stroke="#d83a3a" stroke-width="0.85"/><ellipse cx="126.7" cy="510" rx="0.6" ry="0.6" fill="#d83a3a" stroke="#d83a3a" stroke-width="0.5"/><ellipse cx="104.3" cy="520" rx="0.8" ry="0.8" fill="#d83a3a" stroke="#d83a3a" stroke-width="0.5"/><ellipse cx="108.4" cy="520" rx="1.0" ry="1.6" fill="none" stroke="#d83a3a" stroke-width="0.85"/><ellipse cx="126.7" cy="520" rx="0.6" ry="0.6" fill="#d83a3a" stroke="#d83a3a" stroke-width="0.5"/><ellipse cx="140.7" cy="500.2" rx="0.8" ry="1.1" fill="none" stroke="#d83a3a" stroke-width="0.85"/><ellipse cx="140.7" cy="520" rx="0.8" ry="1.1" fill="none" stroke="#d83a3a" stroke-width="0.85"/><ellipse cx="139.6" cy="510" rx="1.3" ry="1.6" fill="none" stroke="#d83a3a" stroke-width="0.95"/><ellipse cx="141.9" cy="510" rx="1.3" ry="1.6" fill="none" stroke="#d83a3a" stroke-width="0.95"/>
<rect x="59.1" y="494.3" width="36" height="34.1" fill="none" stroke="#4daa3a" stroke-width="0.6" stroke-dasharray="1 0.8"/>
<line x1="40.5" y1="502.5" x2="43.2" y2="502.5" stroke="#4daa3a" stroke-width="1.4"/><path d="M38 502.5 L41.2 500.5 L41.2 504.5 Z" fill="#4daa3a"/>
<line x1="40.5" y1="506.6" x2="43.2" y2="506.6" stroke="#4daa3a" stroke-width="1.4"/><path d="M38 506.6 L41.2 504.6 L41.2 508.6 Z" fill="#4daa3a"/>
<line x1="40.5" y1="513" x2="43.2" y2="513" stroke="#4daa3a" stroke-width="1.4"/><path d="M38 513 L41.2 511 L41.2 515 Z" fill="#4daa3a"/>
<line x1="40.5" y1="517.1" x2="43.2" y2="517.1" stroke="#4daa3a" stroke-width="1.4"/><path d="M38 517.1 L41.2 515.1 L41.2 519.1 Z" fill="#4daa3a"/>
<line x1="147.3" y1="499.2" x2="151.8" y2="499.2" stroke="#4daa3a" stroke-width="1.4"/><path d="M144.8 499.2 L148.0 497.2 L148.0 501.2 Z" fill="#4daa3a"/>
<line x1="147.3" y1="509.9" x2="151.8" y2="509.9" stroke="#4daa3a" stroke-width="1.4"/><path d="M144.8 509.9 L148.0 507.9 L148.0 511.9 Z" fill="#4daa3a"/>
<line x1="147.3" y1="521" x2="151.8" y2="521" stroke="#4daa3a" stroke-width="1.4"/><path d="M144.8 521 L148.0 519 L148.0 523 Z" fill="#4daa3a"/>
<line x1="79.4" y1="579" x2="39.7" y2="520.9" stroke="#4daa3a" stroke-width="0.6"/>
<line x1="79.4" y1="579" x2="150.2" y2="524.6" stroke="#4daa3a" stroke-width="0.6"/>
<line x1="80.2" y1="579" x2="80.2" y2="528.6" stroke="#4daa3a" stroke-width="0.6" stroke-dasharray="1 0.8"/>
<text x="66.5" y="590.2" font-size="10" font-weight="bold" font-family="Liberation Sans, sans-serif" fill="#4daa3a">Pinitol</text>
<rect x="105.7" y="442.9" width="2.9" height="11" fill="#000"/>
<path d="M103.6 453.4 L110.7 453.4 L107.15 457.6 Z" fill="#000"/>
<line x1="233.4" y1="447.2" x2="318.8" y2="447.2" stroke="#3a3a3a" stroke-width="1.6"/><path d="M229.4 447.2 L235.4 444.59999999999997 L234.4 447.2 L235.4 449.8 Z" fill="#3a3a3a"/><path d="M322.8 447.2 L316.8 444.59999999999997 L317.8 447.2 L316.8 449.8 Z" fill="#3a3a3a"/>
<path d="M211.20 489.59 L213.80 489.50 L215.40 489.33 L216.40 489.08 L217.20 488.64 L217.80 487.94 L218.20 487.07 L218.60 485.64 L219.20 482.80 L219.40 482.46 L219.60 482.80 L220.40 486.43 L220.80 487.55 L221.20 488.21 L221.60 488.62 L222.00 488.87 L222.60 489.11 L223.80 489.34 L225.40 489.43 L227.40 489.41 L228.80 489.26 L229.60 489.04 L230.20 488.71 L230.60 488.36 L231.40 487.45 L231.70 487.31 L232.00 487.45 L232.80 488.36 L233.20 488.71 L233.80 489.04 L234.60 489.26 L236.00 489.41 L238.20 489.45 L240.00 489.36 L241.40 489.15 L242.20 488.86 L242.80 488.46 L243.20 488.00 L243.60 487.24 L244.00 485.97 L244.80 481.82 L245.00 481.44 L245.20 481.82 L246.00 485.97 L246.20 486.68 L246.60 487.66 L247.00 488.25 L247.60 488.75 L248.20 489.03 L249.20 489.26 L251.60 489.44 L254.80 489.41 L256.60 489.22 L257.20 489.06 L257.80 488.80 L258.40 488.31 L258.80 487.73 L259.00 487.30 L259.40 486.03 L260.00 483.15 L260.20 482.52 L260.30 482.43 L260.40 482.52 L260.60 483.15 L261.00 485.15 L261.40 486.75 L261.80 487.73 L262.20 488.32 L262.60 488.68 L263.20 489.00 L264.00 489.23 L265.00 489.37 L266.40 489.46 L270.60 489.49 L273.20 489.33 L274.00 489.20 L274.80 488.95 L275.20 488.74 L275.60 488.44 L276.20 487.64 L276.60 486.70 L276.80 486.05 L277.40 483.68 L277.60 483.21 L277.70 483.14 L277.80 483.21 L278.00 483.68 L278.60 486.05 L278.80 486.70 L279.20 487.64 L279.80 488.44 L280.20 488.75 L280.80 489.03 L281.60 489.24 L282.80 489.40 L286.60 489.53 L292.20 489.46 L294.00 489.33 L295.20 489.15 L296.00 488.91 L296.60 488.59 L297.20 488.00 L297.60 487.29 L298.00 486.05 L298.20 485.13 L298.80 481.40 L299.00 480.83 L299.20 481.19 L299.80 484.23 L300.00 484.86 L300.20 485.20 L300.40 485.28 L300.60 485.11 L300.80 484.66 L301.00 483.88 L301.20 482.66 L301.40 480.86 L302.00 472.05 L302.20 470.71 L302.40 472.16 L302.80 478.68 L303.20 483.32 L303.40 484.73 L303.80 486.50 L304.20 487.48 L304.60 488.07 L305.20 488.60 L305.80 488.90 L306.60 489.14 L307.80 489.34 L311.40 489.55 L318.40 489.64" fill="none" stroke="#a04a4a" stroke-width="0.8"/>
<rect x="211.2" y="492.7" width="109.4" height="52.3" fill="none" stroke="#dcdcdc" stroke-width="0.9"/>
<line x1="322" y1="492.7" x2="322" y2="545" stroke="#888" stroke-width="0.8"/>
<line x1="322" y1="504.5" x2="323.8" y2="504.5" stroke="#666" stroke-width="0.5"/>
<line x1="322" y1="516.8" x2="323.8" y2="516.8" stroke="#666" stroke-width="0.5"/>
<line x1="322" y1="529" x2="323.8" y2="529" stroke="#666" stroke-width="0.5"/>
<line x1="322" y1="541.3" x2="323.8" y2="541.3" stroke="#666" stroke-width="0.5"/>
<text x="324.3" y="519" font-size="5.8" font-family="Liberation Sans, sans-serif" fill="#333">0.00</text>
<text x="324.3" y="543.5" font-size="5.8" font-family="Liberation Sans, sans-serif" fill="#333">0.05</text>
<text x="0" y="0" font-size="5.8" text-anchor="middle" font-family="Liberation Sans, sans-serif" fill="#333" transform="translate(344.5,513.6) rotate(-90)" dy="2.03">f1 (ppm)</text>
<line x1="211.2" y1="546.4" x2="318.5" y2="546.4" stroke="#aaa" stroke-width="1.1"/>
<line x1="222.0" y1="546.4" x2="222.0" y2="548" stroke="#666" stroke-width="0.5"/>
<line x1="229.4" y1="546.4" x2="229.4" y2="548" stroke="#666" stroke-width="0.5"/>
<line x1="236.8" y1="546.4" x2="236.8" y2="548" stroke="#666" stroke-width="0.5"/>
<line x1="244.2" y1="546.4" x2="244.2" y2="548" stroke="#666" stroke-width="0.5"/>
<line x1="251.6" y1="546.4" x2="251.6" y2="548" stroke="#666" stroke-width="0.5"/>
<line x1="259.0" y1="546.4" x2="259.0" y2="548" stroke="#666" stroke-width="0.5"/>
<line x1="266.4" y1="546.4" x2="266.4" y2="548" stroke="#666" stroke-width="0.5"/>
<line x1="273.8" y1="546.4" x2="273.8" y2="548" stroke="#666" stroke-width="0.5"/>
<line x1="281.2" y1="546.4" x2="281.2" y2="548" stroke="#666" stroke-width="0.5"/>
<line x1="288.6" y1="546.4" x2="288.6" y2="548" stroke="#666" stroke-width="0.5"/>
<line x1="296.0" y1="546.4" x2="296.0" y2="548" stroke="#666" stroke-width="0.5"/>
<line x1="303.4" y1="546.4" x2="303.4" y2="548" stroke="#666" stroke-width="0.5"/>
<line x1="310.8" y1="546.4" x2="310.8" y2="548" stroke="#666" stroke-width="0.5"/>
<line x1="318.2" y1="546.4" x2="318.2" y2="548" stroke="#666" stroke-width="0.5"/>
<text x="236.8" y="556.3" font-size="5.8" text-anchor="middle" font-family="Liberation Sans, sans-serif" fill="#333">2.90</text>
<text x="266.4" y="556.3" font-size="5.8" text-anchor="middle" font-family="Liberation Sans, sans-serif" fill="#333">2.80</text>
<text x="295.6" y="556.3" font-size="5.8" text-anchor="middle" font-family="Liberation Sans, sans-serif" fill="#333">2.70</text>
<text x="266.2" y="561.2" font-size="5.8" text-anchor="middle" font-family="Liberation Sans, sans-serif" fill="#333">f2 (ppm)</text>
<ellipse cx="219.8" cy="515.5" rx="4.7" ry="13" fill="none" stroke="#d46fd4" stroke-width="0.7" stroke-dasharray="1 0.7"/>
<ellipse cx="245.4" cy="516.3" rx="6.1" ry="16.9" fill="none" stroke="#d46fd4" stroke-width="0.7" stroke-dasharray="1 0.7"/>
<ellipse cx="219.8" cy="509.5" rx="1.4" ry="2.3" fill="none" stroke="#d83a3a" stroke-width="0.9"/><ellipse cx="260.5" cy="509.5" rx="1.4" ry="2.3" fill="none" stroke="#d83a3a" stroke-width="0.9"/><ellipse cx="219.8" cy="522" rx="1.4" ry="2.3" fill="none" stroke="#d83a3a" stroke-width="0.9"/><ellipse cx="260.5" cy="522" rx="1.4" ry="2.3" fill="none" stroke="#d83a3a" stroke-width="0.9"/><ellipse cx="245.4" cy="507" rx="0.8" ry="0.8" fill="#d83a3a" stroke="#d83a3a" stroke-width="0.5"/><ellipse cx="245.4" cy="511.5" rx="0.8" ry="0.8" fill="#d83a3a" stroke="#d83a3a" stroke-width="0.5"/><ellipse cx="244.2" cy="516" rx="0.8" ry="0.8" fill="#d83a3a" stroke="#d83a3a" stroke-width="0.5"/><ellipse cx="245.4" cy="520.5" rx="0.8" ry="0.8" fill="#d83a3a" stroke="#d83a3a" stroke-width="0.5"/><ellipse cx="245.4" cy="525" rx="0.8" ry="0.8" fill="#d83a3a" stroke="#d83a3a" stroke-width="0.5"/><ellipse cx="277.7" cy="516.8" rx="1.3" ry="1.2" fill="#d83a3a" stroke="#d83a3a" stroke-width="0.5"/><ellipse cx="299.1" cy="506.6" rx="0.7" ry="0.7" fill="#d83a3a" stroke="#d83a3a" stroke-width="0.5"/><ellipse cx="299.1" cy="527" rx="0.7" ry="0.7" fill="#d83a3a" stroke="#d83a3a" stroke-width="0.5"/><path d="M300.5 508.3 L302 508.3 Q304.5 510.7 302 513.1 L300.5 513.1 Z" fill="none" stroke="#d83a3a" stroke-width="0.7"/><ellipse cx="299" cy="510.7" rx="0.6" ry="0.6" fill="#d83a3a" stroke="#d83a3a" stroke-width="0.5"/><path d="M300.5 519.5 L302 519.5 Q304.5 521.9 302 524.3 L300.5 524.3 Z" fill="none" stroke="#d83a3a" stroke-width="0.7"/><ellipse cx="299" cy="521.9" rx="0.6" ry="0.6" fill="#d83a3a" stroke="#d83a3a" stroke-width="0.5"/>
<rect x="256.2" y="506" width="8.8" height="22.6" fill="none" stroke="#4daa3a" stroke-width="0.6" stroke-dasharray="1 0.8"/>
<line x1="288.3" y1="465" x2="288.3" y2="527" stroke="#4daa3a" stroke-width="0.6" stroke-dasharray="1 0.8"/>
<line x1="288.3" y1="506.6" x2="293.8" y2="506.6" stroke="#4daa3a" stroke-width="0.9"/><path d="M296.3 506.6 L293.3 504.8 L293.3 508.40000000000003 Z" fill="#4daa3a"/>
<line x1="288.3" y1="511.7" x2="293.8" y2="511.7" stroke="#4daa3a" stroke-width="0.9"/><path d="M296.3 511.7 L293.3 509.9 L293.3 513.5 Z" fill="#4daa3a"/>
<line x1="288.3" y1="521.9" x2="293.8" y2="521.9" stroke="#4daa3a" stroke-width="0.9"/><path d="M296.3 521.9 L293.3 520.1 L293.3 523.6999999999999 Z" fill="#4daa3a"/>
<line x1="288.3" y1="527" x2="293.8" y2="527" stroke="#4daa3a" stroke-width="0.9"/><path d="M296.3 527 L293.3 525.2 L293.3 528.8 Z" fill="#4daa3a"/>
<line x1="287.9" y1="465" x2="265" y2="506" stroke="#4daa3a" stroke-width="0.6"/>
<path d="M305.3 510.2 L311.4 510.2 L311.4 522.9 L305.3 522.9" fill="none" stroke="#2ba9df" stroke-width="0.9" stroke-dasharray="1.6 0.9"/>
<text x="263" y="463" font-size="10.2" font-weight="bold" font-family="Liberation Sans, sans-serif" fill="#4daa3a">Aspartate</text>
<text x="207.8" y="586" font-size="10.2" font-weight="bold" font-family="Liberation Sans, sans-serif" fill="#d46fd4">Asparagine</text>
<text x="277.7" y="586" font-size="10.2" font-weight="bold" font-family="Liberation Sans, sans-serif" fill="#7b2a7b">Sarcosine</text>
<line x1="237.8" y1="574" x2="219.8" y2="528.5" stroke="#d46fd4" stroke-width="0.6" stroke-dasharray="1 0.7"/>
<line x1="237.8" y1="574" x2="245.4" y2="533.2" stroke="#d46fd4" stroke-width="0.6" stroke-dasharray="1 0.7"/>
<line x1="304.2" y1="574" x2="281" y2="522.5" stroke="#7b2a7b" stroke-width="0.8"/>
<path d="M280.4 521 L282.8 523.2 L280.4 524.2 Z" fill="#7b2a7b"/>
<line x1="384.8" y1="447.2" x2="471.2" y2="447.2" stroke="#3a3a3a" stroke-width="1.6"/><path d="M380.8 447.2 L386.8 444.59999999999997 L385.8 447.2 L386.8 449.8 Z" fill="#3a3a3a"/><path d="M475.2 447.2 L469.2 444.59999999999997 L470.2 447.2 L469.2 449.8 Z" fill="#3a3a3a"/>
<text x="333.5" y="462.6" font-size="10.2" font-weight="bold" font-family="Liberation Sans, sans-serif" fill="#2ba9df">Malate</text>
<text x="438.6" y="461.3" font-size="10.2" font-weight="bold" font-family="Liberation Sans, sans-serif" fill="#7b2a7b">Proline</text>
<path d="M369.70 486.47 L378.30 486.44 L382.90 486.35 L386.30 486.21 L393.10 485.78 L399.90 485.67 L401.50 485.51 L402.10 485.34 L402.70 485.04 L403.30 484.58 L403.70 484.16 L404.50 483.01 L405.90 480.42 L406.30 479.79 L406.70 479.36 L407.10 479.20 L407.50 479.36 L407.90 479.79 L408.30 480.43 L409.50 482.68 L410.10 483.64 L410.70 484.39 L411.50 485.05 L411.90 485.26 L412.50 485.46 L413.90 485.61 L415.70 485.49 L417.10 485.16 L417.90 484.77 L418.70 484.09 L419.50 482.95 L420.10 481.68 L420.70 479.98 L421.30 477.83 L423.50 468.14 L424.10 466.43 L424.30 466.12 L424.60 465.95 L424.90 466.13 L425.10 466.44 L425.70 468.15 L427.90 477.88 L428.50 480.03 L429.10 481.74 L429.70 483.02 L430.50 484.18 L431.30 484.87 L432.30 485.36 L433.70 485.71 L435.90 485.97 L439.10 486.17 L443.30 486.30 L456.70 486.43 L485.30 486.48" fill="none" stroke="#a04a4a" stroke-width="0.8"/>
<rect x="369.8" y="489.2" width="116.3" height="56.1" fill="none" stroke="#dcdcdc" stroke-width="0.9"/>
<line x1="488.1" y1="489.2" x2="488.1" y2="545.3" stroke="#888" stroke-width="0.8"/>
<line x1="488.1" y1="490.3" x2="489.9" y2="490.3" stroke="#666" stroke-width="0.5"/>
<line x1="488.1" y1="496.5" x2="489.9" y2="496.5" stroke="#666" stroke-width="0.5"/>
<line x1="488.1" y1="502.7" x2="489.9" y2="502.7" stroke="#666" stroke-width="0.5"/>
<line x1="488.1" y1="508.8" x2="489.9" y2="508.8" stroke="#666" stroke-width="0.5"/>
<line x1="488.1" y1="515" x2="489.9" y2="515" stroke="#666" stroke-width="0.5"/>
<line x1="488.1" y1="521.3" x2="489.9" y2="521.3" stroke="#666" stroke-width="0.5"/>
<line x1="488.1" y1="527.6" x2="489.9" y2="527.6" stroke="#666" stroke-width="0.5"/>
<line x1="488.1" y1="533.9" x2="489.9" y2="533.9" stroke="#666" stroke-width="0.5"/>
<line x1="488.1" y1="540.2" x2="489.9" y2="540.2" stroke="#666" stroke-width="0.5"/>
<text x="490.9" y="492.3" font-size="5.8" font-family="Liberation Sans, sans-serif" fill="#333">-0.04</text>
<text x="490.9" y="517" font-size="5.8" font-family="Liberation Sans, sans-serif" fill="#333">0.00</text>
<text x="490.9" y="542.2" font-size="5.8" font-family="Liberation Sans, sans-serif" fill="#333">0.04</text>
<line x1="369.8" y1="547.9" x2="486" y2="547.9" stroke="#aaa" stroke-width="1.1"/>
<line x1="373.3" y1="547.9" x2="373.3" y2="549.5" stroke="#666" stroke-width="0.5"/>
<line x1="379.8" y1="547.9" x2="379.8" y2="549.5" stroke="#666" stroke-width="0.5"/>
<line x1="386.3" y1="547.9" x2="386.3" y2="549.5" stroke="#666" stroke-width="0.5"/>
<line x1="392.8" y1="547.9" x2="392.8" y2="549.5" stroke="#666" stroke-width="0.5"/>
<line x1="399.3" y1="547.9" x2="399.3" y2="549.5" stroke="#666" stroke-width="0.5"/>
<line x1="405.8" y1="547.9" x2="405.8" y2="549.5" stroke="#666" stroke-width="0.5"/>
<line x1="412.3" y1="547.9" x2="412.3" y2="549.5" stroke="#666" stroke-width="0.5"/>
<line x1="418.8" y1="547.9" x2="418.8" y2="549.5" stroke="#666" stroke-width="0.5"/>
<line x1="425.3" y1="547.9" x2="425.3" y2="549.5" stroke="#666" stroke-width="0.5"/>
<line x1="431.8" y1="547.9" x2="431.8" y2="549.5" stroke="#666" stroke-width="0.5"/>
<line x1="438.3" y1="547.9" x2="438.3" y2="549.5" stroke="#666" stroke-width="0.5"/>
<line x1="444.8" y1="547.9" x2="444.8" y2="549.5" stroke="#666" stroke-width="0.5"/>
<line x1="451.3" y1="547.9" x2="451.3" y2="549.5" stroke="#666" stroke-width="0.5"/>
<line x1="457.8" y1="547.9" x2="457.8" y2="549.5" stroke="#666" stroke-width="0.5"/>
<line x1="464.3" y1="547.9" x2="464.3" y2="549.5" stroke="#666" stroke-width="0.5"/>
<line x1="470.8" y1="547.9" x2="470.8" y2="549.5" stroke="#666" stroke-width="0.5"/>
<line x1="477.3" y1="547.9" x2="477.3" y2="549.5" stroke="#666" stroke-width="0.5"/>
<line x1="483.8" y1="547.9" x2="483.8" y2="549.5" stroke="#666" stroke-width="0.5"/>
<text x="393.9" y="557.7" font-size="5.8" text-anchor="middle" font-family="Liberation Sans, sans-serif" fill="#333">2.38</text>
<text x="420.5" y="557.7" font-size="5.8" text-anchor="middle" font-family="Liberation Sans, sans-serif" fill="#333">2.36</text>
<text x="446" y="557.7" font-size="5.8" text-anchor="middle" font-family="Liberation Sans, sans-serif" fill="#333">2.34</text>
<text x="472.3" y="557.7" font-size="5.8" text-anchor="middle" font-family="Liberation Sans, sans-serif" fill="#333">2.32</text>
<text x="429.6" y="562.8" font-size="5.8" text-anchor="middle" font-family="Liberation Sans, sans-serif" fill="#333">f2 (ppm)</text>
<ellipse cx="407.3" cy="503.6" rx="4.6" ry="1.7" fill="none" stroke="#d83a3a" stroke-width="0.6"/><ellipse cx="407.3" cy="503.6" rx="2.2" ry="0.8" fill="none" stroke="#d83a3a" stroke-width="0.5"/><ellipse cx="407.3" cy="512.8" rx="4.6" ry="1.7" fill="none" stroke="#d83a3a" stroke-width="0.6"/><ellipse cx="407.3" cy="512.8" rx="2.2" ry="0.8" fill="none" stroke="#d83a3a" stroke-width="0.5"/><ellipse cx="407.3" cy="517.7" rx="4.6" ry="1.7" fill="none" stroke="#d83a3a" stroke-width="0.6"/><ellipse cx="407.3" cy="517.7" rx="2.2" ry="0.8" fill="none" stroke="#d83a3a" stroke-width="0.5"/><ellipse cx="407.3" cy="527.1" rx="4.6" ry="1.7" fill="none" stroke="#d83a3a" stroke-width="0.6"/><ellipse cx="407.3" cy="527.1" rx="2.2" ry="0.8" fill="none" stroke="#d83a3a" stroke-width="0.5"/><ellipse cx="426.7" cy="498.6" rx="4.5" ry="1.9" fill="none" stroke="#d83a3a" stroke-width="0.6"/><ellipse cx="426.7" cy="503" rx="5.5" ry="1.9" fill="none" stroke="#d83a3a" stroke-width="0.6"/><ellipse cx="426.7" cy="506.5" rx="8" ry="1.9" fill="none" stroke="#d83a3a" stroke-width="0.6"/><ellipse cx="426.7" cy="509.5" rx="9" ry="1.9" fill="none" stroke="#d83a3a" stroke-width="0.6"/><ellipse cx="426.7" cy="512.5" rx="9.3" ry="1.9" fill="none" stroke="#d83a3a" stroke-width="0.6"/><ellipse cx="426.7" cy="515.5" rx="9.3" ry="1.9" fill="none" stroke="#d83a3a" stroke-width="0.6"/><ellipse cx="426.7" cy="518.5" rx="9.3" ry="1.9" fill="none" stroke="#d83a3a" stroke-width="0.6"/><ellipse cx="426.7" cy="521.5" rx="9" ry="1.9" fill="none" stroke="#d83a3a" stroke-width="0.6"/><ellipse cx="426.7" cy="524.5" rx="8" ry="1.9" fill="none" stroke="#d83a3a" stroke-width="0.6"/><ellipse cx="426.7" cy="528" rx="6" ry="1.9" fill="none" stroke="#d83a3a" stroke-width="0.6"/><ellipse cx="426.7" cy="532" rx="4.5" ry="1.9" fill="none" stroke="#d83a3a" stroke-width="0.6"/><ellipse cx="426.7" cy="509.5" rx="5" ry="1.2" fill="none" stroke="#d83a3a" stroke-width="0.5"/><ellipse cx="426.7" cy="515.5" rx="5" ry="1.2" fill="none" stroke="#d83a3a" stroke-width="0.5"/><ellipse cx="426.7" cy="521.5" rx="5" ry="1.2" fill="none" stroke="#d83a3a" stroke-width="0.5"/>
<rect x="399.4" y="499.3" width="16.4" height="32.8" fill="none" stroke="#2ba9df" stroke-width="0.9" stroke-dasharray="1.2 0.8"/>
<path d="M430.7 498.6 L436.2 498.6 L436.2 532.1 L430.7 532.1" fill="none" stroke="#7b2a7b" stroke-width="0.9" stroke-dasharray="2 1"/>
<line x1="436.2" y1="515" x2="458" y2="463.5" stroke="#7b2a7b" stroke-width="0.9" stroke-dasharray="2.4 1.2"/>
<line x1="351" y1="464" x2="399.4" y2="513" stroke="#2ba9df" stroke-width="0.9" stroke-dasharray="2.4 1.2"/>
<line x1="351" y1="464" x2="311.4" y2="516.5" stroke="#2ba9df" stroke-width="0.9" stroke-dasharray="2.4 1.2"/>
<line x1="525.4" y1="446.6" x2="612.6" y2="446.6" stroke="#3a3a3a" stroke-width="1.6"/><path d="M521.4 446.6 L527.4 444.0 L526.4 446.6 L527.4 449.20000000000005 Z" fill="#3a3a3a"/><path d="M616.6 446.6 L610.6 444.0 L611.6 446.6 L610.6 449.20000000000005 Z" fill="#3a3a3a"/>
<text x="507.5" y="459.6" font-size="10.2" font-family="Liberation Sans, sans-serif" fill="#2ba9df">Valine</text>
<text x="607.2" y="463" font-size="10.2" font-weight="bold" font-family="Liberation Sans, sans-serif" fill="#7b2a7b">Leucine</text>
<path d="M518.30 482.74 L524.50 482.66 L528.10 482.50 L529.30 482.36 L530.30 482.16 L530.90 481.92 L531.30 481.64 L531.70 481.17 L532.10 480.41 L532.70 478.44 L533.10 476.45 L534.30 469.04 L534.50 468.25 L534.70 467.83 L534.80 467.77 L534.90 467.83 L535.10 468.25 L535.30 469.04 L536.70 477.51 L537.10 479.22 L537.50 480.40 L537.90 481.16 L538.50 481.79 L539.30 482.15 L540.30 482.35 L542.10 482.52 L544.50 482.61 L551.90 482.63 L556.30 482.47 L557.50 482.32 L558.30 482.09 L558.70 481.88 L559.10 481.54 L559.50 481.00 L559.90 480.19 L560.50 478.39 L561.70 473.60 L562.10 472.66 L562.30 472.53 L562.50 472.66 L562.90 473.60 L564.10 478.37 L564.70 480.17 L565.30 481.27 L565.90 481.85 L566.50 482.13 L567.30 482.31 L568.50 482.42 L570.10 482.48 L572.10 482.48 L573.90 482.39 L575.30 482.23 L576.10 482.03 L576.70 481.72 L577.10 481.34 L577.50 480.71 L577.90 479.71 L578.50 477.32 L579.70 470.37 L579.90 469.49 L580.10 468.91 L580.30 468.71 L580.50 468.91 L580.70 469.49 L580.90 470.37 L582.10 477.32 L582.70 479.71 L583.10 480.71 L583.50 481.34 L584.10 481.85 L584.90 482.15 L586.10 482.34 L587.90 482.46 L590.30 482.49 L592.50 482.44 L594.10 482.31 L595.10 482.15 L595.70 481.97 L596.30 481.59 L596.70 481.13 L596.90 480.80 L597.50 479.25 L598.10 476.67 L599.10 471.17 L599.50 469.81 L599.70 469.62 L599.90 469.80 L600.10 470.33 L600.30 471.14 L601.50 477.56 L602.10 479.75 L602.30 480.26 L602.70 480.97 L603.10 481.40 L603.70 481.72 L604.10 481.80 L604.70 481.83 L605.50 481.67 L606.10 481.27 L606.50 480.74 L606.70 480.36 L607.10 479.31 L607.50 477.82 L608.70 471.75 L608.90 470.98 L609.10 470.48 L609.30 470.31 L609.50 470.49 L609.90 471.77 L611.10 477.89 L611.70 480.00 L611.90 480.49 L612.30 481.19 L612.70 481.62 L613.30 481.97 L613.90 482.14 L614.90 482.28 L617.50 482.35 L618.50 482.29 L619.30 482.17 L619.90 481.98 L620.30 481.73 L620.90 481.06 L621.50 479.84 L622.10 477.95 L623.10 474.21 L623.50 473.33 L623.70 473.22 L623.90 473.34 L624.30 474.22 L625.50 478.68 L626.10 480.37 L626.70 481.40 L627.10 481.80 L627.50 482.06 L628.10 482.27 L628.70 482.39 L631.10 482.59 L634.90 482.69 L641.70 482.75" fill="none" stroke="#a04a4a" stroke-width="0.8"/>
<rect x="518.5" y="488" width="124.6" height="59.7" fill="none" stroke="#dcdcdc" stroke-width="0.9"/>
<line x1="645.1" y1="488" x2="645.1" y2="547.7" stroke="#888" stroke-width="0.8"/>
<line x1="645.1" y1="494.2" x2="646.9" y2="494.2" stroke="#666" stroke-width="0.5"/>
<line x1="645.1" y1="502.9" x2="646.9" y2="502.9" stroke="#666" stroke-width="0.5"/>
<line x1="645.1" y1="511.4" x2="646.9" y2="511.4" stroke="#666" stroke-width="0.5"/>
<line x1="645.1" y1="519.9" x2="646.9" y2="519.9" stroke="#666" stroke-width="0.5"/>
<line x1="645.1" y1="528.6" x2="646.9" y2="528.6" stroke="#666" stroke-width="0.5"/>
<line x1="645.1" y1="537.3" x2="646.9" y2="537.3" stroke="#666" stroke-width="0.5"/>
<line x1="645.1" y1="545.4" x2="646.9" y2="545.4" stroke="#666" stroke-width="0.5"/>
<text x="647" y="505" font-size="5.8" font-family="Liberation Sans, sans-serif" fill="#333">-0.01</text>
<text x="647" y="522" font-size="5.8" font-family="Liberation Sans, sans-serif" fill="#333">0.00</text>
<text x="647" y="539.4" font-size="5.8" font-family="Liberation Sans, sans-serif" fill="#333">0.01</text>
<text x="0" y="0" font-size="5.8" text-anchor="middle" font-family="Liberation Sans, sans-serif" fill="#333" transform="translate(668.6,516.3) rotate(-90)" dy="2.03">f1 (ppm)</text>
<text x="0" y="0" font-size="5.8" text-anchor="middle" font-family="Liberation Sans, sans-serif" fill="#333" transform="translate(512.5,513.3) rotate(-90)" dy="2.03">f1 (ppm)</text>
<line x1="518.5" y1="550.2" x2="641.6" y2="550.2" stroke="#aaa" stroke-width="1.1"/>
<line x1="524.8" y1="550.2" x2="524.8" y2="551.8" stroke="#666" stroke-width="0.5"/>
<line x1="533.5" y1="550.2" x2="533.5" y2="551.8" stroke="#666" stroke-width="0.5"/>
<line x1="542.3" y1="550.2" x2="542.3" y2="551.8" stroke="#666" stroke-width="0.5"/>
<line x1="551.0" y1="550.2" x2="551.0" y2="551.8" stroke="#666" stroke-width="0.5"/>
<line x1="559.8" y1="550.2" x2="559.8" y2="551.8" stroke="#666" stroke-width="0.5"/>
<line x1="568.5" y1="550.2" x2="568.5" y2="551.8" stroke="#666" stroke-width="0.5"/>
<line x1="577.3" y1="550.2" x2="577.3" y2="551.8" stroke="#666" stroke-width="0.5"/>
<line x1="586.0" y1="550.2" x2="586.0" y2="551.8" stroke="#666" stroke-width="0.5"/>
<line x1="594.8" y1="550.2" x2="594.8" y2="551.8" stroke="#666" stroke-width="0.5"/>
<line x1="603.5" y1="550.2" x2="603.5" y2="551.8" stroke="#666" stroke-width="0.5"/>
<line x1="612.3" y1="550.2" x2="612.3" y2="551.8" stroke="#666" stroke-width="0.5"/>
<line x1="621.0" y1="550.2" x2="621.0" y2="551.8" stroke="#666" stroke-width="0.5"/>
<line x1="629.8" y1="550.2" x2="629.8" y2="551.8" stroke="#666" stroke-width="0.5"/>
<line x1="638.5" y1="550.2" x2="638.5" y2="551.8" stroke="#666" stroke-width="0.5"/>
<text x="542.3" y="560.3" font-size="5.8" text-anchor="middle" font-family="Liberation Sans, sans-serif" fill="#333">1.04</text>
<text x="577.3" y="560.3" font-size="5.8" text-anchor="middle" font-family="Liberation Sans, sans-serif" fill="#333">1.00</text>
<text x="611.7" y="560.3" font-size="5.8" text-anchor="middle" font-family="Liberation Sans, sans-serif" fill="#333">0.96</text>
<text x="581.5" y="565.2" font-size="5.8" text-anchor="middle" font-family="Liberation Sans, sans-serif" fill="#333">f2 (ppm)</text>
<path d="M530.70 511.80 C530.70 505.86 537.74 505.32 539.50 511.26 C537.74 518.28 530.70 517.74 530.70 511.80 Z" fill="none" stroke="#de9e9e" stroke-width="1.3"/><path d="M532.68 511.80 C532.68 508.56 536.42 508.56 537.74 511.53 C536.42 515.04 532.68 515.04 532.68 511.80 Z" fill="none" stroke="#d07c7c" stroke-width="0.6"/><path d="M530.92 511.80 C530.92 506.13 537.52 505.59 539.28 511.26 C537.52 518.01 530.92 517.47 530.92 511.80 Z" fill="none" stroke="#cc7070" stroke-width="0.5"/><path d="M530.70 528.80 C530.70 522.86 537.74 522.32 539.50 528.26 C537.74 535.28 530.70 534.74 530.70 528.80 Z" fill="none" stroke="#de9e9e" stroke-width="1.3"/><path d="M532.68 528.80 C532.68 525.56 536.42 525.56 537.74 528.53 C536.42 532.04 532.68 532.04 532.68 528.80 Z" fill="none" stroke="#d07c7c" stroke-width="0.6"/><path d="M530.92 528.80 C530.92 523.13 537.52 522.59 539.28 528.26 C537.52 535.01 530.92 534.47 530.92 528.80 Z" fill="none" stroke="#cc7070" stroke-width="0.5"/><path d="M557.90 511.80 C557.90 505.86 564.94 505.32 566.70 511.26 C564.94 518.28 557.90 517.74 557.90 511.80 Z" fill="none" stroke="#de9e9e" stroke-width="1.3"/><path d="M559.88 511.80 C559.88 508.56 563.62 508.56 564.94 511.53 C563.62 515.04 559.88 515.04 559.88 511.80 Z" fill="none" stroke="#d07c7c" stroke-width="0.6"/><path d="M558.12 511.80 C558.12 506.13 564.72 505.59 566.48 511.26 C564.72 518.01 558.12 517.47 558.12 511.80 Z" fill="none" stroke="#cc7070" stroke-width="0.5"/><path d="M557.90 528.80 C557.90 522.86 564.94 522.32 566.70 528.26 C564.94 535.28 557.90 534.74 557.90 528.80 Z" fill="none" stroke="#de9e9e" stroke-width="1.3"/><path d="M559.88 528.80 C559.88 525.56 563.62 525.56 564.94 528.53 C563.62 532.04 559.88 532.04 559.88 528.80 Z" fill="none" stroke="#d07c7c" stroke-width="0.6"/><path d="M558.12 528.80 C558.12 523.13 564.72 522.59 566.48 528.26 C564.72 535.01 558.12 534.47 558.12 528.80 Z" fill="none" stroke="#cc7070" stroke-width="0.5"/><path d="M574.60 511.80 C574.60 505.86 581.64 505.32 583.40 511.26 C581.64 518.28 574.60 517.74 574.60 511.80 Z" fill="none" stroke="#de9e9e" stroke-width="1.3"/><path d="M576.58 511.80 C576.58 508.56 580.32 508.56 581.64 511.53 C580.32 515.04 576.58 515.04 576.58 511.80 Z" fill="none" stroke="#d07c7c" stroke-width="0.6"/><path d="M574.82 511.80 C574.82 506.13 581.42 505.59 583.18 511.26 C581.42 518.01 574.82 517.47 574.82 511.80 Z" fill="none" stroke="#cc7070" stroke-width="0.5"/><path d="M574.60 528.80 C574.60 522.86 581.64 522.32 583.40 528.26 C581.64 535.28 574.60 534.74 574.60 528.80 Z" fill="none" stroke="#de9e9e" stroke-width="1.3"/><path d="M576.58 528.80 C576.58 525.56 580.32 525.56 581.64 528.53 C580.32 532.04 576.58 532.04 576.58 528.80 Z" fill="none" stroke="#d07c7c" stroke-width="0.6"/><path d="M574.82 528.80 C574.82 523.13 581.42 522.59 583.18 528.26 C581.42 535.01 574.82 534.47 574.82 528.80 Z" fill="none" stroke="#cc7070" stroke-width="0.5"/><path d="M595.30 511.80 C595.30 505.86 602.34 505.32 604.10 511.26 C602.34 518.28 595.30 517.74 595.30 511.80 Z" fill="none" stroke="#de9e9e" stroke-width="1.3"/><path d="M597.28 511.80 C597.28 508.56 601.02 508.56 602.34 511.53 C601.02 515.04 597.28 515.04 597.28 511.80 Z" fill="none" stroke="#d07c7c" stroke-width="0.6"/><path d="M595.52 511.80 C595.52 506.13 602.12 505.59 603.88 511.26 C602.12 518.01 595.52 517.47 595.52 511.80 Z" fill="none" stroke="#cc7070" stroke-width="0.5"/><path d="M595.30 528.80 C595.30 522.86 602.34 522.32 604.10 528.26 C602.34 535.28 595.30 534.74 595.30 528.80 Z" fill="none" stroke="#de9e9e" stroke-width="1.3"/><path d="M597.28 528.80 C597.28 525.56 601.02 525.56 602.34 528.53 C601.02 532.04 597.28 532.04 597.28 528.80 Z" fill="none" stroke="#d07c7c" stroke-width="0.6"/><path d="M595.52 528.80 C595.52 523.13 602.12 522.59 603.88 528.26 C602.12 535.01 595.52 534.47 595.52 528.80 Z" fill="none" stroke="#cc7070" stroke-width="0.5"/><path d="M604.90 511.80 C604.90 505.86 611.94 505.32 613.70 511.26 C611.94 518.28 604.90 517.74 604.90 511.80 Z" fill="none" stroke="#de9e9e" stroke-width="1.3"/><path d="M606.88 511.80 C606.88 508.56 610.62 508.56 611.94 511.53 C610.62 515.04 606.88 515.04 606.88 511.80 Z" fill="none" stroke="#d07c7c" stroke-width="0.6"/><path d="M605.12 511.80 C605.12 506.13 611.72 505.59 613.48 511.26 C611.72 518.01 605.12 517.47 605.12 511.80 Z" fill="none" stroke="#cc7070" stroke-width="0.5"/><path d="M604.90 528.80 C604.90 522.86 611.94 522.32 613.70 528.26 C611.94 535.28 604.90 534.74 604.90 528.80 Z" fill="none" stroke="#de9e9e" stroke-width="1.3"/><path d="M606.88 528.80 C606.88 525.56 610.62 525.56 611.94 528.53 C610.62 532.04 606.88 532.04 606.88 528.80 Z" fill="none" stroke="#d07c7c" stroke-width="0.6"/><path d="M605.12 528.80 C605.12 523.13 611.72 522.59 613.48 528.26 C611.72 535.01 605.12 534.47 605.12 528.80 Z" fill="none" stroke="#cc7070" stroke-width="0.5"/><ellipse cx="604.6" cy="518" rx="0.5" ry="0.5" fill="#d83a3a" stroke="#d83a3a" stroke-width="0.4"/><ellipse cx="604.6" cy="522" rx="0.5" ry="0.5" fill="#d83a3a" stroke="#d83a3a" stroke-width="0.4"/><ellipse cx="623.4" cy="502.4" rx="2.6" ry="2.6" fill="none" stroke="#d98c8c" stroke-width="0.9"/><ellipse cx="623.4" cy="502.4" rx="1.1700000000000002" ry="1.1700000000000002" fill="none" stroke="#c05a5a" stroke-width="0.5"/><ellipse cx="623.4" cy="538.2" rx="2.6" ry="2.6" fill="none" stroke="#d98c8c" stroke-width="0.9"/><ellipse cx="623.4" cy="538.2" rx="1.1700000000000002" ry="1.1700000000000002" fill="none" stroke="#c05a5a" stroke-width="0.5"/><path d="M618.78 520.50 C618.78 514.26 626.17 513.70 628.02 519.93 C626.17 527.30 618.78 526.74 618.78 520.50 Z" fill="none" stroke="#de9e9e" stroke-width="1.3"/><path d="M620.86 520.50 C620.86 517.10 624.79 517.10 626.17 520.22 C624.79 523.90 620.86 523.90 620.86 520.50 Z" fill="none" stroke="#d07c7c" stroke-width="0.6"/><path d="M619.01 520.50 C619.01 514.55 625.94 513.98 627.79 519.93 C625.94 527.02 619.01 526.45 619.01 520.50 Z" fill="none" stroke="#cc7070" stroke-width="0.5"/><ellipse cx="617" cy="520.3" rx="1.2" ry="3" fill="none" stroke="#c05a5a" stroke-width="0.5"/>
<ellipse cx="535.1" cy="520.5" rx="7.5" ry="20.7" fill="none" stroke="#2ba9df" stroke-width="0.8" stroke-dasharray="1 0.6"/>
<ellipse cx="579" cy="520.5" rx="7.5" ry="21" fill="none" stroke="#2ba9df" stroke-width="0.8" stroke-dasharray="1 0.6"/>
<ellipse cx="562.3" cy="520.5" rx="7.3" ry="22" fill="none" stroke="#4daa3a" stroke-width="0.9" stroke-dasharray="2 1"/>
<ellipse cx="623.4" cy="520.1" rx="7.5" ry="26.6" fill="none" stroke="#4daa3a" stroke-width="0.9" stroke-dasharray="2 1"/>
<rect x="593.4" y="503.3" width="22.5" height="33.9" fill="none" stroke="#7b2a7b" stroke-width="0.8" stroke-dasharray="1.6 0.9"/>
<line x1="524.9" y1="461.6" x2="535.1" y2="499.8" stroke="#2ba9df" stroke-width="0.6"/>
<line x1="524.9" y1="461.6" x2="579" y2="499.5" stroke="#2ba9df" stroke-width="0.6"/>
<line x1="626.7" y1="465.4" x2="605.7" y2="503.3" stroke="#7b2a7b" stroke-width="0.6"/>
<line x1="601.2" y1="573.2" x2="562.3" y2="542.5" stroke="#4daa3a" stroke-width="0.6"/>
<line x1="601.2" y1="573.2" x2="623.4" y2="546.7" stroke="#4daa3a" stroke-width="0.6"/>
<text x="574.3" y="585.4" font-size="10.2" font-weight="bold" font-family="Liberation Sans, sans-serif" fill="#4daa3a">isoleucine</text>
</svg>
</body></html>
